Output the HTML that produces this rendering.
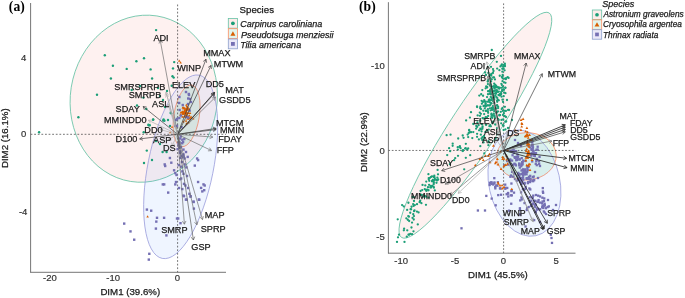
<!DOCTYPE html>
<html><head><meta charset="utf-8"><style>
html,body{margin:0;padding:0;background:#fff;}
svg{display:block;}
text{-webkit-font-smoothing:antialiased;}
.g{will-change:transform;}
</style></head><body>
<svg class="g" width="685" height="298" viewBox="0 0 685 298">
<rect width="685" height="298" fill="#fff"/>
<ellipse cx="143.76" cy="98.70" rx="73.42" ry="83.80" transform="rotate(9.00 143.76 98.70)" fill="#F8766D" fill-opacity="0.1" stroke="#66c2a5" stroke-width="0.8"/>
<ellipse cx="186.58" cy="115.83" rx="12.68" ry="31.22" transform="rotate(9.24 186.58 115.83)" fill="#00BA38" fill-opacity="0.1" stroke="#fc8d62" stroke-width="0.8"/>
<ellipse cx="180.68" cy="166.79" rx="93.46" ry="32.76" transform="rotate(-78.62 180.68 166.79)" fill="#619CFF" fill-opacity="0.1" stroke="#9a9cdb" stroke-width="0.75"/>
<line x1="30.60" y1="134.30" x2="226.00" y2="134.30" stroke="#3a3a3a" stroke-width="0.7" stroke-dasharray="1.8,1.8"/>
<line x1="177.60" y1="4.50" x2="177.60" y2="272.30" stroke="#3a3a3a" stroke-width="0.7" stroke-dasharray="1.8,1.8"/>
<line x1="30.60" y1="3.00" x2="30.60" y2="272.60" stroke="#666" stroke-width="0.9"/>
<line x1="30.30" y1="272.30" x2="226.00" y2="272.30" stroke="#666" stroke-width="0.9"/>
<circle cx="156.10" cy="30.10" r="1.2" fill="#1b9e77"/>
<circle cx="104.80" cy="55.20" r="1.2" fill="#1b9e77"/>
<circle cx="112.90" cy="65.80" r="1.2" fill="#1b9e77"/>
<circle cx="126.70" cy="68.90" r="1.2" fill="#1b9e77"/>
<circle cx="136.40" cy="61.30" r="1.2" fill="#1b9e77"/>
<circle cx="144.00" cy="58.30" r="1.2" fill="#1b9e77"/>
<circle cx="150.60" cy="69.40" r="1.2" fill="#1b9e77"/>
<circle cx="110.90" cy="78.50" r="1.2" fill="#1b9e77"/>
<circle cx="152.10" cy="78.50" r="1.2" fill="#1b9e77"/>
<circle cx="174.20" cy="62.10" r="1.2" fill="#1b9e77"/>
<circle cx="173.00" cy="68.40" r="1.2" fill="#1b9e77"/>
<circle cx="172.50" cy="76.30" r="1.2" fill="#1b9e77"/>
<circle cx="173.70" cy="77.60" r="1.2" fill="#1b9e77"/>
<circle cx="171.70" cy="85.70" r="1.2" fill="#1b9e77"/>
<circle cx="97.00" cy="94.80" r="1.2" fill="#1b9e77"/>
<circle cx="78.40" cy="117.20" r="1.2" fill="#1b9e77"/>
<circle cx="39.10" cy="132.30" r="1.2" fill="#1b9e77"/>
<circle cx="137.00" cy="105.50" r="1.2" fill="#1b9e77"/>
<circle cx="146.30" cy="109.00" r="1.2" fill="#1b9e77"/>
<circle cx="153.20" cy="119.40" r="1.2" fill="#1b9e77"/>
<circle cx="163.60" cy="119.40" r="1.2" fill="#1b9e77"/>
<circle cx="164.40" cy="120.70" r="1.2" fill="#1b9e77"/>
<circle cx="171.10" cy="113.20" r="1.2" fill="#1b9e77"/>
<circle cx="148.80" cy="125.30" r="1.2" fill="#1b9e77"/>
<circle cx="149.80" cy="125.30" r="1.2" fill="#1b9e77"/>
<circle cx="143.40" cy="97.60" r="1.2" fill="#1b9e77"/>
<circle cx="131.70" cy="90.00" r="1.2" fill="#1b9e77"/>
<circle cx="153.10" cy="119.70" r="1.2" fill="#1b9e77"/>
<circle cx="163.20" cy="120.40" r="1.2" fill="#1b9e77"/>
<circle cx="148.40" cy="124.70" r="1.2" fill="#1b9e77"/>
<circle cx="143.70" cy="132.20" r="1.2" fill="#1b9e77"/>
<circle cx="146.80" cy="150.60" r="1.2" fill="#1b9e77"/>
<circle cx="162.60" cy="152.00" r="1.2" fill="#1b9e77"/>
<circle cx="166.60" cy="152.00" r="1.2" fill="#1b9e77"/>
<circle cx="160.00" cy="96.00" r="1.2" fill="#1b9e77"/>
<circle cx="163.00" cy="100.00" r="1.2" fill="#1b9e77"/>
<circle cx="158.00" cy="88.00" r="1.2" fill="#1b9e77"/>
<circle cx="167.00" cy="91.00" r="1.2" fill="#1b9e77"/>
<circle cx="140.00" cy="86.00" r="1.2" fill="#1b9e77"/>
<circle cx="165.00" cy="107.00" r="1.2" fill="#1b9e77"/>
<circle cx="168.00" cy="120.00" r="1.2" fill="#1b9e77"/>
<circle cx="170.00" cy="126.00" r="1.2" fill="#1b9e77"/>
<circle cx="156.00" cy="141.00" r="1.2" fill="#1b9e77"/>
<circle cx="160.00" cy="144.00" r="1.2" fill="#1b9e77"/>
<circle cx="152.00" cy="160.00" r="1.2" fill="#1b9e77"/>
<circle cx="144.00" cy="163.00" r="1.2" fill="#1b9e77"/>
<circle cx="170.70" cy="112.80" r="1.2" fill="#1b9e77"/>
<rect x="179.16" y="150.17" width="2.4" height="2.4" fill="#7570b3"/>
<rect x="179.11" y="156.68" width="2.4" height="2.4" fill="#7570b3"/>
<rect x="182.17" y="153.18" width="2.4" height="2.4" fill="#7570b3"/>
<rect x="178.12" y="140.82" width="2.4" height="2.4" fill="#7570b3"/>
<rect x="181.01" y="142.05" width="2.4" height="2.4" fill="#7570b3"/>
<rect x="182.51" y="155.45" width="2.4" height="2.4" fill="#7570b3"/>
<rect x="179.58" y="135.28" width="2.4" height="2.4" fill="#7570b3"/>
<rect x="180.41" y="154.61" width="2.4" height="2.4" fill="#7570b3"/>
<rect x="182.13" y="153.69" width="2.4" height="2.4" fill="#7570b3"/>
<rect x="177.93" y="146.66" width="2.4" height="2.4" fill="#7570b3"/>
<rect x="177.39" y="142.82" width="2.4" height="2.4" fill="#7570b3"/>
<rect x="177.88" y="142.14" width="2.4" height="2.4" fill="#7570b3"/>
<rect x="181.89" y="140.79" width="2.4" height="2.4" fill="#7570b3"/>
<rect x="179.25" y="145.85" width="2.4" height="2.4" fill="#7570b3"/>
<rect x="184.80" y="90.80" width="2.4" height="2.4" fill="#7570b3"/>
<rect x="187.80" y="93.80" width="2.4" height="2.4" fill="#7570b3"/>
<rect x="188.80" y="97.80" width="2.4" height="2.4" fill="#7570b3"/>
<rect x="186.80" y="102.80" width="2.4" height="2.4" fill="#7570b3"/>
<rect x="174.80" y="118.80" width="2.4" height="2.4" fill="#7570b3"/>
<rect x="175.80" y="124.80" width="2.4" height="2.4" fill="#7570b3"/>
<rect x="178.80" y="137.30" width="2.4" height="2.4" fill="#7570b3"/>
<rect x="181.10" y="138.50" width="2.4" height="2.4" fill="#7570b3"/>
<rect x="177.60" y="144.40" width="2.4" height="2.4" fill="#7570b3"/>
<rect x="176.40" y="147.90" width="2.4" height="2.4" fill="#7570b3"/>
<rect x="182.30" y="148.40" width="2.4" height="2.4" fill="#7570b3"/>
<rect x="168.70" y="156.80" width="2.4" height="2.4" fill="#7570b3"/>
<rect x="181.80" y="156.10" width="2.4" height="2.4" fill="#7570b3"/>
<rect x="183.50" y="157.30" width="2.4" height="2.4" fill="#7570b3"/>
<rect x="186.50" y="155.70" width="2.4" height="2.4" fill="#7570b3"/>
<rect x="195.90" y="157.30" width="2.4" height="2.4" fill="#7570b3"/>
<rect x="196.90" y="158.90" width="2.4" height="2.4" fill="#7570b3"/>
<rect x="163.50" y="163.20" width="2.4" height="2.4" fill="#7570b3"/>
<rect x="164.00" y="164.80" width="2.4" height="2.4" fill="#7570b3"/>
<rect x="170.10" y="161.50" width="2.4" height="2.4" fill="#7570b3"/>
<rect x="177.60" y="163.90" width="2.4" height="2.4" fill="#7570b3"/>
<rect x="180.00" y="165.50" width="2.4" height="2.4" fill="#7570b3"/>
<rect x="183.50" y="163.20" width="2.4" height="2.4" fill="#7570b3"/>
<rect x="185.10" y="166.20" width="2.4" height="2.4" fill="#7570b3"/>
<rect x="193.60" y="164.40" width="2.4" height="2.4" fill="#7570b3"/>
<rect x="172.90" y="169.10" width="2.4" height="2.4" fill="#7570b3"/>
<rect x="174.10" y="171.90" width="2.4" height="2.4" fill="#7570b3"/>
<rect x="175.30" y="173.80" width="2.4" height="2.4" fill="#7570b3"/>
<rect x="181.10" y="170.20" width="2.4" height="2.4" fill="#7570b3"/>
<rect x="182.30" y="172.60" width="2.4" height="2.4" fill="#7570b3"/>
<rect x="178.80" y="178.00" width="2.4" height="2.4" fill="#7570b3"/>
<rect x="180.00" y="177.30" width="2.4" height="2.4" fill="#7570b3"/>
<rect x="174.80" y="180.80" width="2.4" height="2.4" fill="#7570b3"/>
<rect x="174.10" y="183.20" width="2.4" height="2.4" fill="#7570b3"/>
<rect x="161.60" y="183.20" width="2.4" height="2.4" fill="#7570b3"/>
<rect x="163.00" y="183.20" width="2.4" height="2.4" fill="#7570b3"/>
<rect x="182.80" y="182.70" width="2.4" height="2.4" fill="#7570b3"/>
<rect x="184.20" y="184.30" width="2.4" height="2.4" fill="#7570b3"/>
<rect x="181.10" y="187.90" width="2.4" height="2.4" fill="#7570b3"/>
<rect x="196.90" y="180.80" width="2.4" height="2.4" fill="#7570b3"/>
<rect x="202.30" y="183.20" width="2.4" height="2.4" fill="#7570b3"/>
<rect x="203.50" y="184.30" width="2.4" height="2.4" fill="#7570b3"/>
<rect x="199.90" y="186.70" width="2.4" height="2.4" fill="#7570b3"/>
<rect x="201.10" y="190.20" width="2.4" height="2.4" fill="#7570b3"/>
<rect x="203.00" y="189.00" width="2.4" height="2.4" fill="#7570b3"/>
<rect x="167.00" y="191.40" width="2.4" height="2.4" fill="#7570b3"/>
<rect x="182.30" y="194.40" width="2.4" height="2.4" fill="#7570b3"/>
<rect x="188.20" y="192.60" width="2.4" height="2.4" fill="#7570b3"/>
<rect x="189.40" y="195.40" width="2.4" height="2.4" fill="#7570b3"/>
<rect x="184.70" y="198.40" width="2.4" height="2.4" fill="#7570b3"/>
<rect x="197.60" y="198.40" width="2.4" height="2.4" fill="#7570b3"/>
<rect x="192.40" y="200.80" width="2.4" height="2.4" fill="#7570b3"/>
<rect x="145.70" y="208.40" width="2.4" height="2.4" fill="#7570b3"/>
<rect x="150.00" y="209.50" width="2.4" height="2.4" fill="#7570b3"/>
<rect x="155.80" y="216.60" width="2.4" height="2.4" fill="#7570b3"/>
<rect x="155.10" y="220.40" width="2.4" height="2.4" fill="#7570b3"/>
<rect x="162.90" y="216.60" width="2.4" height="2.4" fill="#7570b3"/>
<rect x="154.70" y="227.40" width="2.4" height="2.4" fill="#7570b3"/>
<rect x="165.20" y="234.20" width="2.4" height="2.4" fill="#7570b3"/>
<rect x="175.80" y="217.30" width="2.4" height="2.4" fill="#7570b3"/>
<rect x="179.30" y="222.00" width="2.4" height="2.4" fill="#7570b3"/>
<rect x="123.00" y="222.40" width="2.4" height="2.4" fill="#7570b3"/>
<rect x="129.30" y="230.20" width="2.4" height="2.4" fill="#7570b3"/>
<rect x="133.00" y="238.50" width="2.4" height="2.4" fill="#7570b3"/>
<rect x="148.10" y="252.60" width="2.4" height="2.4" fill="#7570b3"/>
<rect x="147.60" y="258.40" width="2.4" height="2.4" fill="#7570b3"/>
<rect x="182.80" y="195.00" width="2.4" height="2.4" fill="#7570b3"/>
<rect x="185.20" y="198.50" width="2.4" height="2.4" fill="#7570b3"/>
<rect x="189.40" y="195.00" width="2.4" height="2.4" fill="#7570b3"/>
<rect x="192.30" y="200.40" width="2.4" height="2.4" fill="#7570b3"/>
<rect x="198.10" y="198.50" width="2.4" height="2.4" fill="#7570b3"/>
<rect x="192.70" y="207.40" width="2.4" height="2.4" fill="#7570b3"/>
<rect x="177.00" y="217.30" width="2.4" height="2.4" fill="#7570b3"/>
<rect x="177.80" y="141.80" width="2.4" height="2.4" fill="#7570b3"/>
<rect x="179.80" y="145.80" width="2.4" height="2.4" fill="#7570b3"/>
<rect x="178.80" y="151.80" width="2.4" height="2.4" fill="#7570b3"/>
<rect x="184.80" y="150.80" width="2.4" height="2.4" fill="#7570b3"/>
<rect x="180.80" y="160.80" width="2.4" height="2.4" fill="#7570b3"/>
<rect x="185.80" y="174.80" width="2.4" height="2.4" fill="#7570b3"/>
<rect x="177.80" y="186.80" width="2.4" height="2.4" fill="#7570b3"/>
<rect x="186.80" y="186.80" width="2.4" height="2.4" fill="#7570b3"/>
<polygon points="183.87,106.45 182.62,108.61 185.12,108.61" fill="#d95f02"/>
<polygon points="185.48,115.05 184.23,117.21 186.73,117.21" fill="#d95f02"/>
<polygon points="189.49,114.23 188.24,116.39 190.74,116.39" fill="#d95f02"/>
<polygon points="184.60,109.14 183.35,111.31 185.85,111.31" fill="#d95f02"/>
<polygon points="188.37,121.32 187.12,123.49 189.62,123.49" fill="#d95f02"/>
<polygon points="186.99,107.40 185.74,109.56 188.24,109.56" fill="#d95f02"/>
<polygon points="183.42,120.34 182.17,122.50 184.67,122.50" fill="#d95f02"/>
<polygon points="186.79,104.98 185.54,107.15 188.04,107.15" fill="#d95f02"/>
<polygon points="185.96,107.56 184.71,109.73 187.21,109.73" fill="#d95f02"/>
<polygon points="184.38,110.52 183.13,112.69 185.63,112.69" fill="#d95f02"/>
<polygon points="184.13,115.46 182.88,117.62 185.38,117.62" fill="#d95f02"/>
<polygon points="186.02,110.31 184.77,112.48 187.27,112.48" fill="#d95f02"/>
<polygon points="187.39,117.32 186.14,119.48 188.64,119.48" fill="#d95f02"/>
<polygon points="181.44,111.14 180.19,113.31 182.69,113.31" fill="#d95f02"/>
<polygon points="183.36,111.86 182.11,114.02 184.61,114.02" fill="#d95f02"/>
<polygon points="182.46,112.64 181.21,114.80 183.71,114.80" fill="#d95f02"/>
<polygon points="186.09,111.69 184.84,113.85 187.34,113.85" fill="#d95f02"/>
<polygon points="183.16,110.76 181.91,112.93 184.41,112.93" fill="#d95f02"/>
<polygon points="183.04,106.16 181.79,108.33 184.29,108.33" fill="#d95f02"/>
<polygon points="186.85,107.97 185.60,110.13 188.10,110.13" fill="#d95f02"/>
<polygon points="189.59,117.14 188.34,119.31 190.84,119.31" fill="#d95f02"/>
<polygon points="180.41,113.50 179.16,115.66 181.66,115.66" fill="#d95f02"/>
<polygon points="183.01,112.79 181.76,114.95 184.26,114.95" fill="#d95f02"/>
<polygon points="186.33,103.68 185.08,105.85 187.58,105.85" fill="#d95f02"/>
<polygon points="185.52,111.82 184.27,113.99 186.77,113.99" fill="#d95f02"/>
<polygon points="188.99,107.98 187.74,110.14 190.24,110.14" fill="#d95f02"/>
<polygon points="188.34,108.26 187.09,110.43 189.59,110.43" fill="#d95f02"/>
<polygon points="185.24,108.98 183.99,111.15 186.49,111.15" fill="#d95f02"/>
<polygon points="190.40,116.57 189.15,118.73 191.65,118.73" fill="#d95f02"/>
<polygon points="193.25,117.39 192.00,119.56 194.50,119.56" fill="#d95f02"/>
<polygon points="188.65,117.58 187.40,119.74 189.90,119.74" fill="#d95f02"/>
<polygon points="184.44,112.53 183.19,114.70 185.69,114.70" fill="#d95f02"/>
<polygon points="190.12,111.91 188.87,114.08 191.37,114.08" fill="#d95f02"/>
<polygon points="186.75,113.15 185.50,115.31 188.00,115.31" fill="#d95f02"/>
<polygon points="187.97,111.71 186.72,113.87 189.22,113.87" fill="#d95f02"/>
<polygon points="185.76,114.24 184.51,116.41 187.01,116.41" fill="#d95f02"/>
<polygon points="186.50,109.08 185.25,111.24 187.75,111.24" fill="#d95f02"/>
<polygon points="188.80,107.39 187.55,109.55 190.05,109.55" fill="#d95f02"/>
<polygon points="182.72,106.46 181.47,108.62 183.97,108.62" fill="#d95f02"/>
<polygon points="189.00,111.90 187.75,114.06 190.25,114.06" fill="#d95f02"/>
<polygon points="183.38,107.27 182.13,109.43 184.63,109.43" fill="#d95f02"/>
<polygon points="187.42,108.32 186.17,110.49 188.67,110.49" fill="#d95f02"/>
<polygon points="182.51,115.48 181.26,117.64 183.76,117.64" fill="#d95f02"/>
<polygon points="182.73,111.04 181.48,113.21 183.98,113.21" fill="#d95f02"/>
<polygon points="186.18,111.03 184.93,113.19 187.43,113.19" fill="#d95f02"/>
<polygon points="186.04,119.53 184.79,121.69 187.29,121.69" fill="#d95f02"/>
<polygon points="184.70,106.90 183.45,109.06 185.95,109.06" fill="#d95f02"/>
<polygon points="180.87,111.30 179.62,113.46 182.12,113.46" fill="#d95f02"/>
<polygon points="185.18,114.25 183.93,116.42 186.43,116.42" fill="#d95f02"/>
<polygon points="184.85,110.65 183.60,112.81 186.10,112.81" fill="#d95f02"/>
<polygon points="184.11,110.33 182.86,112.49 185.36,112.49" fill="#d95f02"/>
<polygon points="186.66,111.42 185.41,113.58 187.91,113.58" fill="#d95f02"/>
<polygon points="186.49,122.29 185.24,124.45 187.74,124.45" fill="#d95f02"/>
<polygon points="187.59,105.86 186.34,108.03 188.84,108.03" fill="#d95f02"/>
<polygon points="191.23,115.65 189.98,117.82 192.48,117.82" fill="#d95f02"/>
<polygon points="188.18,115.99 186.93,118.15 189.43,118.15" fill="#d95f02"/>
<polygon points="182.41,110.24 181.16,112.41 183.66,112.41" fill="#d95f02"/>
<polygon points="188.12,114.71 186.87,116.88 189.37,116.88" fill="#d95f02"/>
<polygon points="187.55,115.15 186.30,117.31 188.80,117.31" fill="#d95f02"/>
<polygon points="186.96,112.31 185.71,114.48 188.21,114.48" fill="#d95f02"/>
<polygon points="186.79,107.44 185.54,109.60 188.04,109.60" fill="#d95f02"/>
<polygon points="185.15,111.80 183.90,113.96 186.40,113.96" fill="#d95f02"/>
<polygon points="185.57,114.47 184.32,116.64 186.82,116.64" fill="#d95f02"/>
<polygon points="188.57,116.05 187.32,118.22 189.82,118.22" fill="#d95f02"/>
<polygon points="186.46,114.81 185.21,116.97 187.71,116.97" fill="#d95f02"/>
<polygon points="185.05,108.21 183.80,110.37 186.30,110.37" fill="#d95f02"/>
<polygon points="186.63,111.50 185.38,113.67 187.88,113.67" fill="#d95f02"/>
<polygon points="179.20,59.56 177.95,61.72 180.45,61.72" fill="#d95f02"/>
<polygon points="180.60,61.26 179.35,63.42 181.85,63.42" fill="#d95f02"/>
<polygon points="147.60,215.26 146.35,217.42 148.85,217.42" fill="#d95f02"/>
<polygon points="170.20,131.16 168.95,133.32 171.45,133.32" fill="#d95f02"/>
<polygon points="172.00,125.66 170.75,127.82 173.25,127.82" fill="#d95f02"/>
<rect x="179.69" y="114.41" width="2.4" height="2.4" fill="#7570b3"/>
<rect x="175.85" y="117.67" width="2.4" height="2.4" fill="#7570b3"/>
<rect x="188.45" y="109.44" width="2.4" height="2.4" fill="#7570b3"/>
<rect x="185.24" y="115.73" width="2.4" height="2.4" fill="#7570b3"/>
<rect x="181.53" y="103.82" width="2.4" height="2.4" fill="#7570b3"/>
<rect x="174.15" y="124.80" width="2.4" height="2.4" fill="#7570b3"/>
<rect x="183.09" y="137.85" width="2.4" height="2.4" fill="#7570b3"/>
<rect x="187.02" y="116.39" width="2.4" height="2.4" fill="#7570b3"/>
<rect x="180.34" y="126.00" width="2.4" height="2.4" fill="#7570b3"/>
<rect x="178.20" y="95.80" width="2.4" height="2.4" fill="#7570b3"/>
<rect x="178.00" y="101.80" width="2.4" height="2.4" fill="#7570b3"/>
<rect x="178.40" y="108.80" width="2.4" height="2.4" fill="#7570b3"/>
<rect x="178.10" y="116.80" width="2.4" height="2.4" fill="#7570b3"/>
<rect x="187.60" y="92.80" width="2.4" height="2.4" fill="#7570b3"/>
<rect x="187.00" y="97.30" width="2.4" height="2.4" fill="#7570b3"/>
<rect x="189.80" y="100.80" width="2.4" height="2.4" fill="#7570b3"/>
<line x1="177.60" y1="134.30" x2="160.20" y2="40.20" stroke="#6e6e6e" stroke-width="0.7"/>
<polyline points="159.00,43.59 160.20,40.20 162.54,42.94" fill="none" stroke="#6e6e6e" stroke-width="0.7"/>
<line x1="177.60" y1="134.30" x2="206.00" y2="59.20" stroke="#3c3c3c" stroke-width="0.7"/>
<polyline points="203.21,61.48 206.00,59.20 206.58,62.75" fill="none" stroke="#3c3c3c" stroke-width="0.7"/>
<line x1="177.60" y1="134.30" x2="211.10" y2="65.40" stroke="#3c3c3c" stroke-width="0.7"/>
<polyline points="208.12,67.42 211.10,65.40 211.36,68.99" fill="none" stroke="#3c3c3c" stroke-width="0.7"/>
<line x1="177.60" y1="134.30" x2="214.60" y2="92.40" stroke="#1e1e1e" stroke-width="0.85"/>
<polyline points="211.19,93.55 214.60,92.40 213.89,95.93" fill="none" stroke="#1e1e1e" stroke-width="0.85"/>
<line x1="177.60" y1="134.30" x2="214.30" y2="93.50" stroke="#3c3c3c" stroke-width="0.7"/>
<polyline points="210.88,94.61 214.30,93.50 213.55,97.02" fill="none" stroke="#3c3c3c" stroke-width="0.7"/>
<line x1="177.60" y1="134.30" x2="215.50" y2="97.10" stroke="#6e6e6e" stroke-width="0.7"/>
<polyline points="212.01,98.00 215.50,97.10 214.54,100.57" fill="none" stroke="#6e6e6e" stroke-width="0.7"/>
<line x1="177.60" y1="134.30" x2="166.00" y2="92.00" stroke="#a8a8a8" stroke-width="0.65"/>
<polyline points="165.09,95.48 166.00,92.00 168.56,94.53" fill="none" stroke="#a8a8a8" stroke-width="0.65"/>
<line x1="177.60" y1="134.30" x2="166.50" y2="94.10" stroke="#a8a8a8" stroke-width="0.65"/>
<polyline points="165.59,97.58 166.50,94.10 169.06,96.63" fill="none" stroke="#a8a8a8" stroke-width="0.65"/>
<line x1="177.60" y1="134.30" x2="168.00" y2="104.00" stroke="#a8a8a8" stroke-width="0.65"/>
<polyline points="167.23,107.52 168.00,104.00 170.66,106.43" fill="none" stroke="#a8a8a8" stroke-width="0.65"/>
<line x1="177.60" y1="134.30" x2="143.10" y2="106.50" stroke="#3c3c3c" stroke-width="0.7"/>
<polyline points="144.40,109.86 143.10,106.50 146.66,107.05" fill="none" stroke="#3c3c3c" stroke-width="0.7"/>
<line x1="177.60" y1="134.30" x2="148.40" y2="120.30" stroke="#a8a8a8" stroke-width="0.65"/>
<polyline points="150.43,123.27 148.40,120.30 151.99,120.02" fill="none" stroke="#a8a8a8" stroke-width="0.65"/>
<line x1="177.60" y1="134.30" x2="160.00" y2="129.50" stroke="#a8a8a8" stroke-width="0.65"/>
<polyline points="162.53,132.06 160.00,129.50 163.48,128.58" fill="none" stroke="#a8a8a8" stroke-width="0.65"/>
<line x1="177.60" y1="134.30" x2="139.70" y2="138.90" stroke="#3c3c3c" stroke-width="0.7"/>
<polyline points="143.01,140.31 139.70,138.90 142.58,136.74" fill="none" stroke="#3c3c3c" stroke-width="0.7"/>
<line x1="177.60" y1="134.30" x2="168.00" y2="140.00" stroke="#a8a8a8" stroke-width="0.65"/>
<polyline points="171.60,139.96 168.00,140.00 169.76,136.86" fill="none" stroke="#a8a8a8" stroke-width="0.65"/>
<line x1="177.60" y1="134.30" x2="172.00" y2="146.00" stroke="#a8a8a8" stroke-width="0.65"/>
<polyline points="174.97,143.96 172.00,146.00 171.72,142.41" fill="none" stroke="#a8a8a8" stroke-width="0.65"/>
<line x1="177.60" y1="134.30" x2="216.20" y2="128.40" stroke="#3c3c3c" stroke-width="0.7"/>
<polyline points="212.85,127.09 216.20,128.40 213.39,130.65" fill="none" stroke="#3c3c3c" stroke-width="0.7"/>
<line x1="177.60" y1="134.30" x2="216.20" y2="129.50" stroke="#3c3c3c" stroke-width="0.7"/>
<polyline points="212.88,128.10 216.20,129.50 213.33,131.67" fill="none" stroke="#3c3c3c" stroke-width="0.7"/>
<line x1="177.60" y1="134.30" x2="212.80" y2="137.10" stroke="#6e6e6e" stroke-width="0.7"/>
<polyline points="209.83,135.06 212.80,137.10 209.55,138.65" fill="none" stroke="#6e6e6e" stroke-width="0.7"/>
<line x1="177.60" y1="134.30" x2="211.50" y2="150.60" stroke="#6e6e6e" stroke-width="0.7"/>
<polyline points="209.47,147.63 211.50,150.60 207.91,150.87" fill="none" stroke="#6e6e6e" stroke-width="0.7"/>
<line x1="177.60" y1="134.30" x2="202.50" y2="219.60" stroke="#6e6e6e" stroke-width="0.7"/>
<polyline points="203.35,216.10 202.50,219.60 199.90,217.11" fill="none" stroke="#6e6e6e" stroke-width="0.7"/>
<line x1="177.60" y1="134.30" x2="196.90" y2="224.90" stroke="#6e6e6e" stroke-width="0.7"/>
<polyline points="198.01,221.48 196.90,224.90 194.49,222.23" fill="none" stroke="#6e6e6e" stroke-width="0.7"/>
<line x1="177.60" y1="134.30" x2="184.40" y2="224.20" stroke="#6e6e6e" stroke-width="0.7"/>
<polyline points="185.96,220.96 184.40,224.20 182.37,221.23" fill="none" stroke="#6e6e6e" stroke-width="0.7"/>
<line x1="177.60" y1="134.30" x2="193.40" y2="240.00" stroke="#5a5a5a" stroke-width="0.7"/>
<polyline points="194.72,236.65 193.40,240.00 191.16,237.18" fill="none" stroke="#5a5a5a" stroke-width="0.7"/>
<text x="153.42" y="40.55" font-family='"Liberation Sans",sans-serif' font-size="9.15" font-style="normal" font-weight="normal" fill="#1a1a1a" stroke="#1a1a1a" stroke-width="0.25">ADI</text>
<text x="203.18" y="55.95" font-family='"Liberation Sans",sans-serif' font-size="9.15" font-style="normal" font-weight="normal" fill="#1a1a1a" stroke="#1a1a1a" stroke-width="0.25">MMAX</text>
<text x="213.81" y="67.15" font-family='"Liberation Sans",sans-serif' font-size="9.15" font-style="normal" font-weight="normal" fill="#1a1a1a" stroke="#1a1a1a" stroke-width="0.25">MTWM</text>
<text x="177.15" y="71.15" font-family='"Liberation Sans",sans-serif' font-size="9.15" font-style="normal" font-weight="normal" fill="#1a1a1a" stroke="#1a1a1a" stroke-width="0.25">WINP</text>
<text x="171.95" y="88.15" font-family='"Liberation Sans",sans-serif' font-size="9.15" font-style="normal" font-weight="normal" fill="#1a1a1a" stroke="#1a1a1a" stroke-width="0.25">ELEV</text>
<text x="205.65" y="86.65" font-family='"Liberation Sans",sans-serif' font-size="9.15" font-style="normal" font-weight="normal" fill="#1a1a1a" stroke="#1a1a1a" stroke-width="0.25">DD5</text>
<text x="225.28" y="92.95" font-family='"Liberation Sans",sans-serif' font-size="9.15" font-style="normal" font-weight="normal" fill="#1a1a1a" stroke="#1a1a1a" stroke-width="0.25">MAT</text>
<text x="219.09" y="103.25" font-family='"Liberation Sans",sans-serif' font-size="9.15" font-style="normal" font-weight="normal" fill="#1a1a1a" stroke="#1a1a1a" stroke-width="0.25">GSDD5</text>
<text x="114.23" y="90.15" font-family='"Liberation Sans",sans-serif' font-size="9.15" font-style="normal" font-weight="normal" fill="#1a1a1a" stroke="#1a1a1a" stroke-width="0.25">SMRSPRPB</text>
<text x="128.78" y="97.65" font-family='"Liberation Sans",sans-serif' font-size="9.15" font-style="normal" font-weight="normal" fill="#1a1a1a" stroke="#1a1a1a" stroke-width="0.25">SMRPB</text>
<text x="152.10" y="106.75" font-family='"Liberation Sans",sans-serif' font-size="9.15" font-style="normal" font-weight="normal" fill="#1a1a1a" stroke="#1a1a1a" stroke-width="0.25">ASL</text>
<text x="115.58" y="111.85" font-family='"Liberation Sans",sans-serif' font-size="9.15" font-style="normal" font-weight="normal" fill="#1a1a1a" stroke="#1a1a1a" stroke-width="0.25">SDAY</text>
<text x="104.00" y="122.95" font-family='"Liberation Sans",sans-serif' font-size="9.15" font-style="normal" font-weight="normal" fill="#1a1a1a" stroke="#1a1a1a" stroke-width="0.25">MMINDD0</text>
<text x="144.30" y="132.55" font-family='"Liberation Sans",sans-serif' font-size="9.15" font-style="normal" font-weight="normal" fill="#1a1a1a" stroke="#1a1a1a" stroke-width="0.25">DD0</text>
<text x="115.61" y="142.35" font-family='"Liberation Sans",sans-serif' font-size="9.15" font-style="normal" font-weight="normal" fill="#1a1a1a" stroke="#1a1a1a" stroke-width="0.25">D100</text>
<text x="153.05" y="143.25" font-family='"Liberation Sans",sans-serif' font-size="9.15" font-style="normal" font-weight="normal" fill="#1a1a1a" stroke="#1a1a1a" stroke-width="0.25">ASP</text>
<text x="162.95" y="150.85" font-family='"Liberation Sans",sans-serif' font-size="9.15" font-style="normal" font-weight="normal" fill="#1a1a1a" stroke="#1a1a1a" stroke-width="0.25">DS</text>
<text x="215.88" y="125.55" font-family='"Liberation Sans",sans-serif' font-size="9.15" font-style="normal" font-weight="normal" fill="#1a1a1a" stroke="#1a1a1a" stroke-width="0.25">MTCM</text>
<text x="219.95" y="133.35" font-family='"Liberation Sans",sans-serif' font-size="9.15" font-style="normal" font-weight="normal" fill="#1a1a1a" stroke="#1a1a1a" stroke-width="0.25">MMIN</text>
<text x="218.29" y="141.65" font-family='"Liberation Sans",sans-serif' font-size="9.15" font-style="normal" font-weight="normal" fill="#1a1a1a" stroke="#1a1a1a" stroke-width="0.25">FDAY</text>
<text x="216.66" y="153.45" font-family='"Liberation Sans",sans-serif' font-size="9.15" font-style="normal" font-weight="normal" fill="#1a1a1a" stroke="#1a1a1a" stroke-width="0.25">FFP</text>
<text x="204.74" y="217.85" font-family='"Liberation Sans",sans-serif' font-size="9.15" font-style="normal" font-weight="normal" fill="#1a1a1a" stroke="#1a1a1a" stroke-width="0.25">MAP</text>
<text x="200.74" y="231.55" font-family='"Liberation Sans",sans-serif' font-size="9.15" font-style="normal" font-weight="normal" fill="#1a1a1a" stroke="#1a1a1a" stroke-width="0.25">SPRP</text>
<text x="161.13" y="233.45" font-family='"Liberation Sans",sans-serif' font-size="9.15" font-style="normal" font-weight="normal" fill="#1a1a1a" stroke="#1a1a1a" stroke-width="0.25">SMRP</text>
<text x="191.29" y="250.45" font-family='"Liberation Sans",sans-serif' font-size="9.15" font-style="normal" font-weight="normal" fill="#1a1a1a" stroke="#1a1a1a" stroke-width="0.25">GSP</text>
<text x="21.02" y="60.86" font-family='"Liberation Sans",sans-serif' font-size="9.5" font-style="normal" font-weight="normal" fill="#333" stroke="#333" stroke-width="0.2">4</text>
<text x="21.02" y="136.76" font-family='"Liberation Sans",sans-serif' font-size="9.5" font-style="normal" font-weight="normal" fill="#333" stroke="#333" stroke-width="0.2">0</text>
<text x="18.95" y="215.46" font-family='"Liberation Sans",sans-serif' font-size="9.5" font-style="normal" font-weight="normal" fill="#333" stroke="#333" stroke-width="0.2">-4</text>
<text x="43.04" y="280.76" font-family='"Liberation Sans",sans-serif' font-size="9.5" font-style="normal" font-weight="normal" fill="#333" stroke="#333" stroke-width="0.2">-20</text>
<text x="106.34" y="280.76" font-family='"Liberation Sans",sans-serif' font-size="9.5" font-style="normal" font-weight="normal" fill="#333" stroke="#333" stroke-width="0.2">-10</text>
<text x="174.86" y="280.76" font-family='"Liberation Sans",sans-serif' font-size="9.5" font-style="normal" font-weight="normal" fill="#333" stroke="#333" stroke-width="0.2">0</text>
<text x="100.39" y="294.74" font-family='"Liberation Sans",sans-serif' font-size="9.7" font-style="normal" font-weight="normal" fill="#1a1a1a" stroke="#1a1a1a" stroke-width="0.25">DIM1 (39.6%)</text>
<g transform="translate(5,138.2) rotate(-90)">
<text x="-29.91" y="3.34" font-family='"Liberation Sans",sans-serif' font-size="9.7" font-style="normal" font-weight="normal" fill="#1a1a1a" stroke="#1a1a1a" stroke-width="0.25">DIM2 (16.1%)</text>
</g>
<text x="8.87" y="10.80" font-family='"Liberation Serif",serif' font-size="13.6" font-style="normal" font-weight="bold" fill="#000">(a)</text>
<text x="239.54" y="13.04" font-family='"Liberation Sans",sans-serif' font-size="9.7" font-style="normal" font-weight="normal" fill="#1a1a1a" stroke="#1a1a1a" stroke-width="0.25">Species</text>
<rect x="228.3" y="18.40" width="9.2" height="9.8" fill="#fdecea" stroke="#66c2a5" stroke-width="0.8"/>
<circle cx="232.90" cy="23.30" r="1.9" fill="#1b9e77"/>
<text x="240.20" y="26.90" font-family='"Liberation Sans",sans-serif' font-size="9.0" font-style="italic" font-weight="normal" fill="#1a1a1a" stroke="#1a1a1a" stroke-width="0.25">Carpinus caroliniana</text>
<rect x="228.3" y="28.70" width="9.2" height="9.8" fill="#e2f4ec" stroke="#fc8d62" stroke-width="0.8"/>
<polygon points="232.90,31.32 230.40,35.65 235.40,35.65" fill="#d95f02"/>
<text x="240.90" y="37.60" font-family='"Liberation Sans",sans-serif' font-size="9.0" font-style="italic" font-weight="normal" fill="#1a1a1a" stroke="#1a1a1a" stroke-width="0.25">Pseudotsuga menziesii</text>
<rect x="228.3" y="39.00" width="9.2" height="9.8" fill="#eae9f8" stroke="#8da0cb" stroke-width="0.8"/>
<rect x="231.00" y="42.00" width="3.8" height="3.8" fill="#7570b3"/>
<text x="240.20" y="47.80" font-family='"Liberation Sans",sans-serif' font-size="9.0" font-style="italic" font-weight="normal" fill="#1a1a1a" stroke="#1a1a1a" stroke-width="0.25">Tilia americana</text>
<ellipse cx="475.38" cy="125.23" rx="23.42" ry="134.36" transform="rotate(33.34 475.38 125.23)" fill="#F8766D" fill-opacity="0.1" stroke="#66c2a5" stroke-width="0.8"/>
<ellipse cx="526.45" cy="156.35" rx="23.66" ry="29.78" transform="rotate(87.57 526.45 156.35)" fill="#00BA38" fill-opacity="0.1" stroke="#fc8d62" stroke-width="0.8"/>
<ellipse cx="524.43" cy="183.04" rx="35.48" ry="53.92" transform="rotate(-12.34 524.43 183.04)" fill="#619CFF" fill-opacity="0.1" stroke="#9a9cdb" stroke-width="0.75"/>
<line x1="388.40" y1="150.45" x2="575.50" y2="150.45" stroke="#3a3a3a" stroke-width="0.7" stroke-dasharray="1.7,1.7"/>
<line x1="503.60" y1="3.40" x2="503.60" y2="253.20" stroke="#3a3a3a" stroke-width="0.7" stroke-dasharray="1.7,1.7"/>
<line x1="388.40" y1="2.20" x2="388.40" y2="253.50" stroke="#666" stroke-width="0.9"/>
<line x1="388.10" y1="253.20" x2="575.50" y2="253.20" stroke="#666" stroke-width="0.9"/>
<circle cx="495.07" cy="86.87" r="1.15" fill="#1b9e77"/>
<circle cx="491.17" cy="75.19" r="1.15" fill="#1b9e77"/>
<circle cx="494.20" cy="83.70" r="1.15" fill="#1b9e77"/>
<circle cx="488.33" cy="79.83" r="1.15" fill="#1b9e77"/>
<circle cx="491.32" cy="73.89" r="1.15" fill="#1b9e77"/>
<circle cx="490.98" cy="86.45" r="1.15" fill="#1b9e77"/>
<circle cx="489.90" cy="85.39" r="1.15" fill="#1b9e77"/>
<circle cx="491.05" cy="75.28" r="1.15" fill="#1b9e77"/>
<circle cx="495.95" cy="87.46" r="1.15" fill="#1b9e77"/>
<circle cx="485.13" cy="72.49" r="1.15" fill="#1b9e77"/>
<circle cx="487.90" cy="84.11" r="1.15" fill="#1b9e77"/>
<circle cx="487.74" cy="81.62" r="1.15" fill="#1b9e77"/>
<circle cx="494.09" cy="77.42" r="1.15" fill="#1b9e77"/>
<circle cx="497.17" cy="68.62" r="1.15" fill="#1b9e77"/>
<circle cx="496.22" cy="85.90" r="1.15" fill="#1b9e77"/>
<circle cx="494.95" cy="79.47" r="1.15" fill="#1b9e77"/>
<circle cx="489.53" cy="75.81" r="1.15" fill="#1b9e77"/>
<circle cx="489.48" cy="75.09" r="1.15" fill="#1b9e77"/>
<circle cx="487.92" cy="81.04" r="1.15" fill="#1b9e77"/>
<circle cx="486.00" cy="74.94" r="1.15" fill="#1b9e77"/>
<circle cx="490.54" cy="78.15" r="1.15" fill="#1b9e77"/>
<circle cx="491.01" cy="75.42" r="1.15" fill="#1b9e77"/>
<circle cx="493.02" cy="69.10" r="1.15" fill="#1b9e77"/>
<circle cx="492.94" cy="73.01" r="1.15" fill="#1b9e77"/>
<circle cx="495.24" cy="84.82" r="1.15" fill="#1b9e77"/>
<circle cx="490.57" cy="84.36" r="1.15" fill="#1b9e77"/>
<circle cx="491.11" cy="81.35" r="1.15" fill="#1b9e77"/>
<circle cx="493.13" cy="77.41" r="1.15" fill="#1b9e77"/>
<circle cx="494.27" cy="87.40" r="1.15" fill="#1b9e77"/>
<circle cx="490.72" cy="84.81" r="1.15" fill="#1b9e77"/>
<circle cx="488.34" cy="72.90" r="1.15" fill="#1b9e77"/>
<circle cx="491.77" cy="79.35" r="1.15" fill="#1b9e77"/>
<circle cx="500.40" cy="66.43" r="1.15" fill="#1b9e77"/>
<circle cx="502.70" cy="78.40" r="1.15" fill="#1b9e77"/>
<circle cx="501.92" cy="85.05" r="1.15" fill="#1b9e77"/>
<circle cx="504.58" cy="70.35" r="1.15" fill="#1b9e77"/>
<circle cx="502.53" cy="81.17" r="1.15" fill="#1b9e77"/>
<circle cx="502.64" cy="74.98" r="1.15" fill="#1b9e77"/>
<circle cx="502.93" cy="86.96" r="1.15" fill="#1b9e77"/>
<circle cx="508.58" cy="77.91" r="1.15" fill="#1b9e77"/>
<circle cx="502.34" cy="89.80" r="1.15" fill="#1b9e77"/>
<circle cx="502.34" cy="68.77" r="1.15" fill="#1b9e77"/>
<circle cx="504.90" cy="65.09" r="1.15" fill="#1b9e77"/>
<circle cx="502.36" cy="71.66" r="1.15" fill="#1b9e77"/>
<circle cx="501.37" cy="83.79" r="1.15" fill="#1b9e77"/>
<circle cx="507.61" cy="77.19" r="1.15" fill="#1b9e77"/>
<circle cx="501.13" cy="87.85" r="1.15" fill="#1b9e77"/>
<circle cx="504.04" cy="89.86" r="1.15" fill="#1b9e77"/>
<circle cx="505.44" cy="87.87" r="1.15" fill="#1b9e77"/>
<circle cx="503.16" cy="66.54" r="1.15" fill="#1b9e77"/>
<circle cx="504.92" cy="78.55" r="1.15" fill="#1b9e77"/>
<circle cx="504.22" cy="82.34" r="1.15" fill="#1b9e77"/>
<circle cx="505.25" cy="87.77" r="1.15" fill="#1b9e77"/>
<circle cx="504.95" cy="66.13" r="1.15" fill="#1b9e77"/>
<circle cx="505.83" cy="79.20" r="1.15" fill="#1b9e77"/>
<circle cx="504.83" cy="63.54" r="1.15" fill="#1b9e77"/>
<circle cx="505.51" cy="82.85" r="1.15" fill="#1b9e77"/>
<circle cx="506.13" cy="78.09" r="1.15" fill="#1b9e77"/>
<circle cx="501.34" cy="65.51" r="1.15" fill="#1b9e77"/>
<circle cx="503.49" cy="65.18" r="1.15" fill="#1b9e77"/>
<circle cx="502.45" cy="76.67" r="1.15" fill="#1b9e77"/>
<circle cx="499.76" cy="75.77" r="1.15" fill="#1b9e77"/>
<circle cx="501.92" cy="77.05" r="1.15" fill="#1b9e77"/>
<circle cx="503.05" cy="89.36" r="1.15" fill="#1b9e77"/>
<circle cx="481.18" cy="94.25" r="1.15" fill="#1b9e77"/>
<circle cx="493.89" cy="93.34" r="1.15" fill="#1b9e77"/>
<circle cx="488.22" cy="91.06" r="1.15" fill="#1b9e77"/>
<circle cx="499.97" cy="115.13" r="1.15" fill="#1b9e77"/>
<circle cx="491.42" cy="113.71" r="1.15" fill="#1b9e77"/>
<circle cx="492.28" cy="89.13" r="1.15" fill="#1b9e77"/>
<circle cx="495.33" cy="95.68" r="1.15" fill="#1b9e77"/>
<circle cx="483.52" cy="106.05" r="1.15" fill="#1b9e77"/>
<circle cx="491.94" cy="108.67" r="1.15" fill="#1b9e77"/>
<circle cx="491.68" cy="100.02" r="1.15" fill="#1b9e77"/>
<circle cx="484.27" cy="100.26" r="1.15" fill="#1b9e77"/>
<circle cx="480.09" cy="108.08" r="1.15" fill="#1b9e77"/>
<circle cx="489.16" cy="99.63" r="1.15" fill="#1b9e77"/>
<circle cx="491.26" cy="117.04" r="1.15" fill="#1b9e77"/>
<circle cx="493.50" cy="96.07" r="1.15" fill="#1b9e77"/>
<circle cx="485.63" cy="88.36" r="1.15" fill="#1b9e77"/>
<circle cx="498.52" cy="95.01" r="1.15" fill="#1b9e77"/>
<circle cx="499.15" cy="88.64" r="1.15" fill="#1b9e77"/>
<circle cx="494.54" cy="116.31" r="1.15" fill="#1b9e77"/>
<circle cx="484.11" cy="105.72" r="1.15" fill="#1b9e77"/>
<circle cx="490.00" cy="91.81" r="1.15" fill="#1b9e77"/>
<circle cx="498.69" cy="87.94" r="1.15" fill="#1b9e77"/>
<circle cx="493.78" cy="113.73" r="1.15" fill="#1b9e77"/>
<circle cx="491.84" cy="97.83" r="1.15" fill="#1b9e77"/>
<circle cx="495.74" cy="93.13" r="1.15" fill="#1b9e77"/>
<circle cx="497.90" cy="99.94" r="1.15" fill="#1b9e77"/>
<circle cx="497.89" cy="91.95" r="1.15" fill="#1b9e77"/>
<circle cx="494.56" cy="88.43" r="1.15" fill="#1b9e77"/>
<circle cx="497.29" cy="87.23" r="1.15" fill="#1b9e77"/>
<circle cx="493.93" cy="86.27" r="1.15" fill="#1b9e77"/>
<circle cx="492.86" cy="106.09" r="1.15" fill="#1b9e77"/>
<circle cx="496.48" cy="97.20" r="1.15" fill="#1b9e77"/>
<circle cx="489.94" cy="93.78" r="1.15" fill="#1b9e77"/>
<circle cx="488.73" cy="100.23" r="1.15" fill="#1b9e77"/>
<circle cx="502.46" cy="107.99" r="1.15" fill="#1b9e77"/>
<circle cx="491.07" cy="93.46" r="1.15" fill="#1b9e77"/>
<circle cx="496.03" cy="90.53" r="1.15" fill="#1b9e77"/>
<circle cx="496.60" cy="108.39" r="1.15" fill="#1b9e77"/>
<circle cx="488.02" cy="94.25" r="1.15" fill="#1b9e77"/>
<circle cx="488.13" cy="112.83" r="1.15" fill="#1b9e77"/>
<circle cx="487.97" cy="101.81" r="1.15" fill="#1b9e77"/>
<circle cx="492.23" cy="117.94" r="1.15" fill="#1b9e77"/>
<circle cx="482.29" cy="90.11" r="1.15" fill="#1b9e77"/>
<circle cx="490.26" cy="89.55" r="1.15" fill="#1b9e77"/>
<circle cx="496.76" cy="91.63" r="1.15" fill="#1b9e77"/>
<circle cx="477.66" cy="115.46" r="1.15" fill="#1b9e77"/>
<circle cx="495.52" cy="108.59" r="1.15" fill="#1b9e77"/>
<circle cx="481.91" cy="103.71" r="1.15" fill="#1b9e77"/>
<circle cx="494.03" cy="97.22" r="1.15" fill="#1b9e77"/>
<circle cx="496.90" cy="91.40" r="1.15" fill="#1b9e77"/>
<circle cx="498.27" cy="87.31" r="1.15" fill="#1b9e77"/>
<circle cx="496.06" cy="112.60" r="1.15" fill="#1b9e77"/>
<circle cx="497.21" cy="101.80" r="1.15" fill="#1b9e77"/>
<circle cx="486.89" cy="117.31" r="1.15" fill="#1b9e77"/>
<circle cx="494.49" cy="86.58" r="1.15" fill="#1b9e77"/>
<circle cx="499.53" cy="114.86" r="1.15" fill="#1b9e77"/>
<circle cx="491.98" cy="91.07" r="1.15" fill="#1b9e77"/>
<circle cx="498.03" cy="118.99" r="1.15" fill="#1b9e77"/>
<circle cx="490.25" cy="90.37" r="1.15" fill="#1b9e77"/>
<circle cx="495.71" cy="93.69" r="1.15" fill="#1b9e77"/>
<circle cx="493.09" cy="101.09" r="1.15" fill="#1b9e77"/>
<circle cx="484.35" cy="101.52" r="1.15" fill="#1b9e77"/>
<circle cx="505.47" cy="93.16" r="1.15" fill="#1b9e77"/>
<circle cx="477.12" cy="107.10" r="1.15" fill="#1b9e77"/>
<circle cx="471.02" cy="112.15" r="1.15" fill="#1b9e77"/>
<circle cx="487.09" cy="87.50" r="1.15" fill="#1b9e77"/>
<circle cx="489.74" cy="91.00" r="1.15" fill="#1b9e77"/>
<circle cx="494.30" cy="111.20" r="1.15" fill="#1b9e77"/>
<circle cx="487.17" cy="86.90" r="1.15" fill="#1b9e77"/>
<circle cx="491.75" cy="107.91" r="1.15" fill="#1b9e77"/>
<circle cx="492.05" cy="109.92" r="1.15" fill="#1b9e77"/>
<circle cx="494.32" cy="115.46" r="1.15" fill="#1b9e77"/>
<circle cx="482.91" cy="101.99" r="1.15" fill="#1b9e77"/>
<circle cx="487.04" cy="97.05" r="1.15" fill="#1b9e77"/>
<circle cx="502.16" cy="90.32" r="1.15" fill="#1b9e77"/>
<circle cx="493.28" cy="94.68" r="1.15" fill="#1b9e77"/>
<circle cx="501.10" cy="92.12" r="1.15" fill="#1b9e77"/>
<circle cx="485.88" cy="101.61" r="1.15" fill="#1b9e77"/>
<circle cx="499.32" cy="87.69" r="1.15" fill="#1b9e77"/>
<circle cx="490.64" cy="110.29" r="1.15" fill="#1b9e77"/>
<circle cx="485.66" cy="117.18" r="1.15" fill="#1b9e77"/>
<circle cx="494.46" cy="90.84" r="1.15" fill="#1b9e77"/>
<circle cx="498.19" cy="108.03" r="1.15" fill="#1b9e77"/>
<circle cx="492.23" cy="115.05" r="1.15" fill="#1b9e77"/>
<circle cx="500.99" cy="94.39" r="1.15" fill="#1b9e77"/>
<circle cx="480.87" cy="113.80" r="1.15" fill="#1b9e77"/>
<circle cx="484.80" cy="108.34" r="1.15" fill="#1b9e77"/>
<circle cx="500.81" cy="111.87" r="1.15" fill="#1b9e77"/>
<circle cx="499.71" cy="95.25" r="1.15" fill="#1b9e77"/>
<circle cx="477.00" cy="106.42" r="1.15" fill="#1b9e77"/>
<circle cx="486.09" cy="110.77" r="1.15" fill="#1b9e77"/>
<circle cx="491.44" cy="115.00" r="1.15" fill="#1b9e77"/>
<circle cx="485.61" cy="103.21" r="1.15" fill="#1b9e77"/>
<circle cx="491.42" cy="88.82" r="1.15" fill="#1b9e77"/>
<circle cx="486.04" cy="105.87" r="1.15" fill="#1b9e77"/>
<circle cx="494.30" cy="99.17" r="1.15" fill="#1b9e77"/>
<circle cx="479.76" cy="112.62" r="1.15" fill="#1b9e77"/>
<circle cx="490.74" cy="96.90" r="1.15" fill="#1b9e77"/>
<circle cx="498.09" cy="106.56" r="1.15" fill="#1b9e77"/>
<circle cx="491.58" cy="103.39" r="1.15" fill="#1b9e77"/>
<circle cx="495.31" cy="90.39" r="1.15" fill="#1b9e77"/>
<circle cx="487.96" cy="109.03" r="1.15" fill="#1b9e77"/>
<circle cx="490.03" cy="100.29" r="1.15" fill="#1b9e77"/>
<circle cx="490.67" cy="102.83" r="1.15" fill="#1b9e77"/>
<circle cx="496.94" cy="100.54" r="1.15" fill="#1b9e77"/>
<circle cx="492.54" cy="86.72" r="1.15" fill="#1b9e77"/>
<circle cx="496.89" cy="90.25" r="1.15" fill="#1b9e77"/>
<circle cx="481.67" cy="100.80" r="1.15" fill="#1b9e77"/>
<circle cx="498.85" cy="100.32" r="1.15" fill="#1b9e77"/>
<circle cx="493.60" cy="99.62" r="1.15" fill="#1b9e77"/>
<circle cx="496.00" cy="93.43" r="1.15" fill="#1b9e77"/>
<circle cx="497.16" cy="105.26" r="1.15" fill="#1b9e77"/>
<circle cx="489.35" cy="99.74" r="1.15" fill="#1b9e77"/>
<circle cx="489.61" cy="102.03" r="1.15" fill="#1b9e77"/>
<circle cx="489.77" cy="105.55" r="1.15" fill="#1b9e77"/>
<circle cx="479.96" cy="115.84" r="1.15" fill="#1b9e77"/>
<circle cx="493.82" cy="109.48" r="1.15" fill="#1b9e77"/>
<circle cx="488.14" cy="105.41" r="1.15" fill="#1b9e77"/>
<circle cx="489.93" cy="108.28" r="1.15" fill="#1b9e77"/>
<circle cx="490.98" cy="94.31" r="1.15" fill="#1b9e77"/>
<circle cx="497.91" cy="111.43" r="1.15" fill="#1b9e77"/>
<circle cx="500.01" cy="95.24" r="1.15" fill="#1b9e77"/>
<circle cx="485.62" cy="106.62" r="1.15" fill="#1b9e77"/>
<circle cx="500.00" cy="94.22" r="1.15" fill="#1b9e77"/>
<circle cx="483.30" cy="110.67" r="1.15" fill="#1b9e77"/>
<circle cx="483.07" cy="95.74" r="1.15" fill="#1b9e77"/>
<circle cx="492.83" cy="115.82" r="1.15" fill="#1b9e77"/>
<circle cx="487.92" cy="111.21" r="1.15" fill="#1b9e77"/>
<circle cx="488.15" cy="115.91" r="1.15" fill="#1b9e77"/>
<circle cx="480.99" cy="109.07" r="1.15" fill="#1b9e77"/>
<circle cx="479.29" cy="95.62" r="1.15" fill="#1b9e77"/>
<circle cx="488.12" cy="91.30" r="1.15" fill="#1b9e77"/>
<circle cx="484.16" cy="114.05" r="1.15" fill="#1b9e77"/>
<circle cx="486.17" cy="86.48" r="1.15" fill="#1b9e77"/>
<circle cx="494.85" cy="117.56" r="1.15" fill="#1b9e77"/>
<circle cx="493.52" cy="91.20" r="1.15" fill="#1b9e77"/>
<circle cx="485.64" cy="104.13" r="1.15" fill="#1b9e77"/>
<circle cx="494.26" cy="102.90" r="1.15" fill="#1b9e77"/>
<circle cx="480.42" cy="106.57" r="1.15" fill="#1b9e77"/>
<circle cx="498.82" cy="91.53" r="1.15" fill="#1b9e77"/>
<circle cx="493.18" cy="98.24" r="1.15" fill="#1b9e77"/>
<circle cx="490.38" cy="104.53" r="1.15" fill="#1b9e77"/>
<circle cx="485.93" cy="110.91" r="1.15" fill="#1b9e77"/>
<circle cx="496.63" cy="105.54" r="1.15" fill="#1b9e77"/>
<circle cx="492.95" cy="107.93" r="1.15" fill="#1b9e77"/>
<circle cx="490.54" cy="94.02" r="1.15" fill="#1b9e77"/>
<circle cx="491.44" cy="99.22" r="1.15" fill="#1b9e77"/>
<circle cx="487.51" cy="105.32" r="1.15" fill="#1b9e77"/>
<circle cx="497.32" cy="98.03" r="1.15" fill="#1b9e77"/>
<circle cx="496.88" cy="112.51" r="1.15" fill="#1b9e77"/>
<circle cx="505.89" cy="110.90" r="1.15" fill="#1b9e77"/>
<circle cx="501.22" cy="123.29" r="1.15" fill="#1b9e77"/>
<circle cx="503.19" cy="119.50" r="1.15" fill="#1b9e77"/>
<circle cx="503.00" cy="101.91" r="1.15" fill="#1b9e77"/>
<circle cx="503.87" cy="113.18" r="1.15" fill="#1b9e77"/>
<circle cx="503.67" cy="96.17" r="1.15" fill="#1b9e77"/>
<circle cx="500.20" cy="94.27" r="1.15" fill="#1b9e77"/>
<circle cx="501.73" cy="109.12" r="1.15" fill="#1b9e77"/>
<circle cx="504.77" cy="110.82" r="1.15" fill="#1b9e77"/>
<circle cx="503.59" cy="129.99" r="1.15" fill="#1b9e77"/>
<circle cx="505.43" cy="129.38" r="1.15" fill="#1b9e77"/>
<circle cx="508.05" cy="109.97" r="1.15" fill="#1b9e77"/>
<circle cx="504.64" cy="115.99" r="1.15" fill="#1b9e77"/>
<circle cx="501.54" cy="96.66" r="1.15" fill="#1b9e77"/>
<circle cx="501.47" cy="119.89" r="1.15" fill="#1b9e77"/>
<circle cx="505.26" cy="121.58" r="1.15" fill="#1b9e77"/>
<circle cx="497.00" cy="128.15" r="1.15" fill="#1b9e77"/>
<circle cx="501.23" cy="93.57" r="1.15" fill="#1b9e77"/>
<circle cx="504.89" cy="106.79" r="1.15" fill="#1b9e77"/>
<circle cx="502.98" cy="114.98" r="1.15" fill="#1b9e77"/>
<circle cx="502.93" cy="110.93" r="1.15" fill="#1b9e77"/>
<circle cx="504.41" cy="92.60" r="1.15" fill="#1b9e77"/>
<circle cx="499.30" cy="115.44" r="1.15" fill="#1b9e77"/>
<circle cx="498.66" cy="119.96" r="1.15" fill="#1b9e77"/>
<circle cx="502.86" cy="125.21" r="1.15" fill="#1b9e77"/>
<circle cx="502.46" cy="90.93" r="1.15" fill="#1b9e77"/>
<circle cx="502.45" cy="99.71" r="1.15" fill="#1b9e77"/>
<circle cx="503.58" cy="125.72" r="1.15" fill="#1b9e77"/>
<circle cx="505.98" cy="117.00" r="1.15" fill="#1b9e77"/>
<circle cx="506.19" cy="121.49" r="1.15" fill="#1b9e77"/>
<circle cx="483.55" cy="139.66" r="1.15" fill="#1b9e77"/>
<circle cx="480.81" cy="134.63" r="1.15" fill="#1b9e77"/>
<circle cx="490.21" cy="125.12" r="1.15" fill="#1b9e77"/>
<circle cx="495.22" cy="124.52" r="1.15" fill="#1b9e77"/>
<circle cx="466.13" cy="120.44" r="1.15" fill="#1b9e77"/>
<circle cx="469.92" cy="132.23" r="1.15" fill="#1b9e77"/>
<circle cx="471.13" cy="132.17" r="1.15" fill="#1b9e77"/>
<circle cx="482.41" cy="127.58" r="1.15" fill="#1b9e77"/>
<circle cx="495.69" cy="138.91" r="1.15" fill="#1b9e77"/>
<circle cx="481.51" cy="138.51" r="1.15" fill="#1b9e77"/>
<circle cx="482.56" cy="118.15" r="1.15" fill="#1b9e77"/>
<circle cx="485.27" cy="132.09" r="1.15" fill="#1b9e77"/>
<circle cx="484.28" cy="137.67" r="1.15" fill="#1b9e77"/>
<circle cx="477.06" cy="136.87" r="1.15" fill="#1b9e77"/>
<circle cx="469.94" cy="117.60" r="1.15" fill="#1b9e77"/>
<circle cx="480.29" cy="128.73" r="1.15" fill="#1b9e77"/>
<circle cx="482.58" cy="126.36" r="1.15" fill="#1b9e77"/>
<circle cx="489.43" cy="126.18" r="1.15" fill="#1b9e77"/>
<circle cx="468.71" cy="133.00" r="1.15" fill="#1b9e77"/>
<circle cx="479.06" cy="130.36" r="1.15" fill="#1b9e77"/>
<circle cx="481.61" cy="131.37" r="1.15" fill="#1b9e77"/>
<circle cx="486.03" cy="124.92" r="1.15" fill="#1b9e77"/>
<circle cx="483.99" cy="135.98" r="1.15" fill="#1b9e77"/>
<circle cx="483.88" cy="118.48" r="1.15" fill="#1b9e77"/>
<circle cx="462.71" cy="135.49" r="1.15" fill="#1b9e77"/>
<circle cx="480.88" cy="129.41" r="1.15" fill="#1b9e77"/>
<circle cx="480.26" cy="120.68" r="1.15" fill="#1b9e77"/>
<circle cx="486.94" cy="130.63" r="1.15" fill="#1b9e77"/>
<circle cx="477.09" cy="133.83" r="1.15" fill="#1b9e77"/>
<circle cx="488.35" cy="141.08" r="1.15" fill="#1b9e77"/>
<circle cx="467.64" cy="134.54" r="1.15" fill="#1b9e77"/>
<circle cx="482.44" cy="137.23" r="1.15" fill="#1b9e77"/>
<circle cx="478.60" cy="125.21" r="1.15" fill="#1b9e77"/>
<circle cx="481.92" cy="124.22" r="1.15" fill="#1b9e77"/>
<circle cx="469.13" cy="130.40" r="1.15" fill="#1b9e77"/>
<circle cx="477.16" cy="126.88" r="1.15" fill="#1b9e77"/>
<circle cx="476.15" cy="128.66" r="1.15" fill="#1b9e77"/>
<circle cx="489.01" cy="142.39" r="1.15" fill="#1b9e77"/>
<circle cx="492.28" cy="123.03" r="1.15" fill="#1b9e77"/>
<circle cx="493.10" cy="121.56" r="1.15" fill="#1b9e77"/>
<circle cx="490.85" cy="126.34" r="1.15" fill="#1b9e77"/>
<circle cx="488.79" cy="129.59" r="1.15" fill="#1b9e77"/>
<circle cx="477.43" cy="122.52" r="1.15" fill="#1b9e77"/>
<circle cx="478.88" cy="139.43" r="1.15" fill="#1b9e77"/>
<circle cx="482.38" cy="128.75" r="1.15" fill="#1b9e77"/>
<circle cx="462.84" cy="151.00" r="1.15" fill="#1b9e77"/>
<circle cx="468.17" cy="148.39" r="1.15" fill="#1b9e77"/>
<circle cx="462.38" cy="150.62" r="1.15" fill="#1b9e77"/>
<circle cx="463.15" cy="150.13" r="1.15" fill="#1b9e77"/>
<circle cx="467.16" cy="149.62" r="1.15" fill="#1b9e77"/>
<circle cx="465.83" cy="143.84" r="1.15" fill="#1b9e77"/>
<circle cx="465.73" cy="148.18" r="1.15" fill="#1b9e77"/>
<circle cx="460.57" cy="148.21" r="1.15" fill="#1b9e77"/>
<circle cx="459.92" cy="146.16" r="1.15" fill="#1b9e77"/>
<circle cx="457.70" cy="147.22" r="1.15" fill="#1b9e77"/>
<circle cx="459.45" cy="146.90" r="1.15" fill="#1b9e77"/>
<circle cx="465.10" cy="148.62" r="1.15" fill="#1b9e77"/>
<circle cx="484.30" cy="153.35" r="1.15" fill="#1b9e77"/>
<circle cx="446.62" cy="135.19" r="1.15" fill="#1b9e77"/>
<circle cx="449.91" cy="164.20" r="1.15" fill="#1b9e77"/>
<circle cx="463.57" cy="137.84" r="1.15" fill="#1b9e77"/>
<circle cx="483.58" cy="142.45" r="1.15" fill="#1b9e77"/>
<circle cx="450.55" cy="134.66" r="1.15" fill="#1b9e77"/>
<circle cx="458.02" cy="155.82" r="1.15" fill="#1b9e77"/>
<circle cx="452.67" cy="145.78" r="1.15" fill="#1b9e77"/>
<circle cx="457.87" cy="149.60" r="1.15" fill="#1b9e77"/>
<circle cx="447.21" cy="155.11" r="1.15" fill="#1b9e77"/>
<circle cx="422.55" cy="184.90" r="1.15" fill="#1b9e77"/>
<circle cx="429.07" cy="184.84" r="1.15" fill="#1b9e77"/>
<circle cx="434.80" cy="190.47" r="1.15" fill="#1b9e77"/>
<circle cx="426.40" cy="190.93" r="1.15" fill="#1b9e77"/>
<circle cx="430.72" cy="186.66" r="1.15" fill="#1b9e77"/>
<circle cx="438.20" cy="179.49" r="1.15" fill="#1b9e77"/>
<circle cx="433.53" cy="186.58" r="1.15" fill="#1b9e77"/>
<circle cx="423.40" cy="196.68" r="1.15" fill="#1b9e77"/>
<circle cx="428.42" cy="174.20" r="1.15" fill="#1b9e77"/>
<circle cx="422.23" cy="190.08" r="1.15" fill="#1b9e77"/>
<circle cx="432.80" cy="179.91" r="1.15" fill="#1b9e77"/>
<circle cx="436.50" cy="182.76" r="1.15" fill="#1b9e77"/>
<circle cx="437.35" cy="177.64" r="1.15" fill="#1b9e77"/>
<circle cx="434.46" cy="177.35" r="1.15" fill="#1b9e77"/>
<circle cx="426.04" cy="189.93" r="1.15" fill="#1b9e77"/>
<circle cx="421.83" cy="194.96" r="1.15" fill="#1b9e77"/>
<circle cx="428.72" cy="178.12" r="1.15" fill="#1b9e77"/>
<circle cx="428.77" cy="179.29" r="1.15" fill="#1b9e77"/>
<circle cx="434.18" cy="176.89" r="1.15" fill="#1b9e77"/>
<circle cx="426.03" cy="196.64" r="1.15" fill="#1b9e77"/>
<circle cx="432.19" cy="181.35" r="1.15" fill="#1b9e77"/>
<circle cx="424.88" cy="195.89" r="1.15" fill="#1b9e77"/>
<circle cx="430.38" cy="187.45" r="1.15" fill="#1b9e77"/>
<circle cx="433.63" cy="181.01" r="1.15" fill="#1b9e77"/>
<circle cx="424.78" cy="189.16" r="1.15" fill="#1b9e77"/>
<circle cx="420.60" cy="190.99" r="1.15" fill="#1b9e77"/>
<circle cx="428.55" cy="197.55" r="1.15" fill="#1b9e77"/>
<circle cx="433.72" cy="176.79" r="1.15" fill="#1b9e77"/>
<circle cx="433.87" cy="182.83" r="1.15" fill="#1b9e77"/>
<circle cx="428.02" cy="187.15" r="1.15" fill="#1b9e77"/>
<circle cx="437.23" cy="180.36" r="1.15" fill="#1b9e77"/>
<circle cx="426.25" cy="181.60" r="1.15" fill="#1b9e77"/>
<circle cx="434.83" cy="178.91" r="1.15" fill="#1b9e77"/>
<circle cx="434.31" cy="175.53" r="1.15" fill="#1b9e77"/>
<circle cx="433.64" cy="184.15" r="1.15" fill="#1b9e77"/>
<circle cx="425.27" cy="185.42" r="1.15" fill="#1b9e77"/>
<circle cx="420.72" cy="194.66" r="1.15" fill="#1b9e77"/>
<circle cx="432.13" cy="186.00" r="1.15" fill="#1b9e77"/>
<circle cx="434.69" cy="179.95" r="1.15" fill="#1b9e77"/>
<circle cx="436.39" cy="179.93" r="1.15" fill="#1b9e77"/>
<circle cx="428.51" cy="190.26" r="1.15" fill="#1b9e77"/>
<circle cx="431.08" cy="176.92" r="1.15" fill="#1b9e77"/>
<circle cx="431.95" cy="181.05" r="1.15" fill="#1b9e77"/>
<circle cx="430.74" cy="185.79" r="1.15" fill="#1b9e77"/>
<circle cx="433.85" cy="187.65" r="1.15" fill="#1b9e77"/>
<circle cx="429.27" cy="180.82" r="1.15" fill="#1b9e77"/>
<circle cx="433.47" cy="181.01" r="1.15" fill="#1b9e77"/>
<circle cx="427.33" cy="189.60" r="1.15" fill="#1b9e77"/>
<circle cx="431.14" cy="187.41" r="1.15" fill="#1b9e77"/>
<circle cx="429.84" cy="177.89" r="1.15" fill="#1b9e77"/>
<circle cx="407.26" cy="230.34" r="1.15" fill="#1b9e77"/>
<circle cx="409.17" cy="220.99" r="1.15" fill="#1b9e77"/>
<circle cx="419.64" cy="202.22" r="1.15" fill="#1b9e77"/>
<circle cx="416.93" cy="211.62" r="1.15" fill="#1b9e77"/>
<circle cx="408.40" cy="202.76" r="1.15" fill="#1b9e77"/>
<circle cx="420.21" cy="200.55" r="1.15" fill="#1b9e77"/>
<circle cx="413.97" cy="216.03" r="1.15" fill="#1b9e77"/>
<circle cx="412.06" cy="234.21" r="1.15" fill="#1b9e77"/>
<circle cx="410.23" cy="212.75" r="1.15" fill="#1b9e77"/>
<circle cx="407.79" cy="219.73" r="1.15" fill="#1b9e77"/>
<circle cx="408.26" cy="216.04" r="1.15" fill="#1b9e77"/>
<circle cx="413.75" cy="219.50" r="1.15" fill="#1b9e77"/>
<circle cx="407.15" cy="209.95" r="1.15" fill="#1b9e77"/>
<circle cx="421.42" cy="203.21" r="1.15" fill="#1b9e77"/>
<circle cx="406.79" cy="236.65" r="1.15" fill="#1b9e77"/>
<circle cx="417.02" cy="204.21" r="1.15" fill="#1b9e77"/>
<circle cx="414.51" cy="210.30" r="1.15" fill="#1b9e77"/>
<circle cx="413.15" cy="204.10" r="1.15" fill="#1b9e77"/>
<circle cx="397.73" cy="219.34" r="1.15" fill="#1b9e77"/>
<circle cx="404.11" cy="228.64" r="1.15" fill="#1b9e77"/>
<circle cx="412.51" cy="196.90" r="1.15" fill="#1b9e77"/>
<circle cx="406.33" cy="218.28" r="1.15" fill="#1b9e77"/>
<circle cx="419.98" cy="201.70" r="1.15" fill="#1b9e77"/>
<circle cx="410.31" cy="233.82" r="1.15" fill="#1b9e77"/>
<circle cx="414.07" cy="211.21" r="1.15" fill="#1b9e77"/>
<circle cx="411.46" cy="227.52" r="1.15" fill="#1b9e77"/>
<circle cx="412.03" cy="222.60" r="1.15" fill="#1b9e77"/>
<circle cx="403.82" cy="230.29" r="1.15" fill="#1b9e77"/>
<circle cx="412.56" cy="217.91" r="1.15" fill="#1b9e77"/>
<circle cx="411.53" cy="206.73" r="1.15" fill="#1b9e77"/>
<circle cx="413.49" cy="231.37" r="1.15" fill="#1b9e77"/>
<circle cx="418.55" cy="212.39" r="1.15" fill="#1b9e77"/>
<circle cx="403.77" cy="206.45" r="1.15" fill="#1b9e77"/>
<circle cx="414.00" cy="201.00" r="1.15" fill="#1b9e77"/>
<circle cx="414.85" cy="205.12" r="1.15" fill="#1b9e77"/>
<circle cx="411.14" cy="209.37" r="1.15" fill="#1b9e77"/>
<circle cx="409.07" cy="234.68" r="1.15" fill="#1b9e77"/>
<circle cx="408.49" cy="234.54" r="1.15" fill="#1b9e77"/>
<circle cx="410.61" cy="209.15" r="1.15" fill="#1b9e77"/>
<circle cx="425.97" cy="204.78" r="1.15" fill="#1b9e77"/>
<circle cx="413.58" cy="205.88" r="1.15" fill="#1b9e77"/>
<circle cx="417.78" cy="224.41" r="1.15" fill="#1b9e77"/>
<circle cx="413.99" cy="197.32" r="1.15" fill="#1b9e77"/>
<circle cx="408.94" cy="216.71" r="1.15" fill="#1b9e77"/>
<circle cx="413.24" cy="214.26" r="1.15" fill="#1b9e77"/>
<circle cx="491.80" cy="50.00" r="1.15" fill="#1b9e77"/>
<circle cx="501.00" cy="55.90" r="1.15" fill="#1b9e77"/>
<circle cx="496.80" cy="61.80" r="1.15" fill="#1b9e77"/>
<circle cx="501.90" cy="64.30" r="1.15" fill="#1b9e77"/>
<circle cx="503.60" cy="68.50" r="1.15" fill="#1b9e77"/>
<circle cx="499.40" cy="70.20" r="1.15" fill="#1b9e77"/>
<circle cx="491.00" cy="66.80" r="1.15" fill="#1b9e77"/>
<circle cx="493.50" cy="71.00" r="1.15" fill="#1b9e77"/>
<circle cx="437.60" cy="169.90" r="1.15" fill="#1b9e77"/>
<circle cx="438.00" cy="174.30" r="1.15" fill="#1b9e77"/>
<circle cx="432.00" cy="176.30" r="1.15" fill="#1b9e77"/>
<circle cx="464.20" cy="169.30" r="1.15" fill="#1b9e77"/>
<circle cx="397.00" cy="241.90" r="1.15" fill="#1b9e77"/>
<circle cx="404.50" cy="241.90" r="1.15" fill="#1b9e77"/>
<circle cx="399.00" cy="234.70" r="1.15" fill="#1b9e77"/>
<circle cx="398.00" cy="237.30" r="1.15" fill="#1b9e77"/>
<circle cx="402.10" cy="205.10" r="1.15" fill="#1b9e77"/>
<circle cx="473.30" cy="124.00" r="1.15" fill="#1b9e77"/>
<circle cx="476.30" cy="126.00" r="1.15" fill="#1b9e77"/>
<circle cx="469.20" cy="130.00" r="1.15" fill="#1b9e77"/>
<circle cx="473.30" cy="132.10" r="1.15" fill="#1b9e77"/>
<circle cx="458.20" cy="138.50" r="1.15" fill="#1b9e77"/>
<circle cx="452.70" cy="143.70" r="1.15" fill="#1b9e77"/>
<circle cx="449.10" cy="148.20" r="1.15" fill="#1b9e77"/>
<circle cx="450.10" cy="151.20" r="1.15" fill="#1b9e77"/>
<circle cx="468.20" cy="137.10" r="1.15" fill="#1b9e77"/>
<circle cx="472.30" cy="138.10" r="1.15" fill="#1b9e77"/>
<circle cx="470.20" cy="155.20" r="1.15" fill="#1b9e77"/>
<circle cx="465.80" cy="157.80" r="1.15" fill="#1b9e77"/>
<circle cx="455.20" cy="158.20" r="1.15" fill="#1b9e77"/>
<circle cx="454.10" cy="160.20" r="1.15" fill="#1b9e77"/>
<circle cx="480.30" cy="146.20" r="1.15" fill="#1b9e77"/>
<circle cx="488.40" cy="145.20" r="1.15" fill="#1b9e77"/>
<circle cx="482.30" cy="140.10" r="1.15" fill="#1b9e77"/>
<circle cx="512.00" cy="120.00" r="1.15" fill="#1b9e77"/>
<circle cx="509.00" cy="110.00" r="1.15" fill="#1b9e77"/>
<circle cx="508.00" cy="128.00" r="1.15" fill="#1b9e77"/>
<circle cx="507.00" cy="100.00" r="1.15" fill="#1b9e77"/>
<rect x="529.40" y="177.46" width="2.3" height="2.3" fill="#7570b3"/>
<rect x="511.90" y="150.70" width="2.3" height="2.3" fill="#7570b3"/>
<rect x="526.56" y="169.09" width="2.3" height="2.3" fill="#7570b3"/>
<rect x="520.46" y="163.63" width="2.3" height="2.3" fill="#7570b3"/>
<rect x="521.86" y="171.64" width="2.3" height="2.3" fill="#7570b3"/>
<rect x="512.42" y="149.25" width="2.3" height="2.3" fill="#7570b3"/>
<rect x="511.17" y="150.37" width="2.3" height="2.3" fill="#7570b3"/>
<rect x="516.17" y="153.19" width="2.3" height="2.3" fill="#7570b3"/>
<rect x="526.72" y="182.01" width="2.3" height="2.3" fill="#7570b3"/>
<rect x="515.79" y="158.72" width="2.3" height="2.3" fill="#7570b3"/>
<rect x="526.75" y="165.48" width="2.3" height="2.3" fill="#7570b3"/>
<rect x="531.65" y="179.76" width="2.3" height="2.3" fill="#7570b3"/>
<rect x="525.97" y="170.76" width="2.3" height="2.3" fill="#7570b3"/>
<rect x="513.49" y="155.96" width="2.3" height="2.3" fill="#7570b3"/>
<rect x="518.17" y="162.73" width="2.3" height="2.3" fill="#7570b3"/>
<rect x="512.78" y="151.79" width="2.3" height="2.3" fill="#7570b3"/>
<rect x="516.18" y="157.79" width="2.3" height="2.3" fill="#7570b3"/>
<rect x="515.11" y="159.07" width="2.3" height="2.3" fill="#7570b3"/>
<rect x="509.39" y="149.90" width="2.3" height="2.3" fill="#7570b3"/>
<rect x="527.81" y="175.68" width="2.3" height="2.3" fill="#7570b3"/>
<rect x="531.79" y="176.00" width="2.3" height="2.3" fill="#7570b3"/>
<rect x="518.68" y="166.43" width="2.3" height="2.3" fill="#7570b3"/>
<rect x="523.27" y="169.14" width="2.3" height="2.3" fill="#7570b3"/>
<rect x="521.83" y="168.16" width="2.3" height="2.3" fill="#7570b3"/>
<rect x="523.60" y="170.07" width="2.3" height="2.3" fill="#7570b3"/>
<rect x="532.04" y="180.02" width="2.3" height="2.3" fill="#7570b3"/>
<rect x="526.13" y="165.26" width="2.3" height="2.3" fill="#7570b3"/>
<rect x="511.42" y="154.10" width="2.3" height="2.3" fill="#7570b3"/>
<rect x="520.40" y="173.02" width="2.3" height="2.3" fill="#7570b3"/>
<rect x="520.84" y="172.70" width="2.3" height="2.3" fill="#7570b3"/>
<rect x="525.76" y="177.20" width="2.3" height="2.3" fill="#7570b3"/>
<rect x="522.62" y="171.36" width="2.3" height="2.3" fill="#7570b3"/>
<rect x="518.59" y="158.23" width="2.3" height="2.3" fill="#7570b3"/>
<rect x="512.34" y="149.34" width="2.3" height="2.3" fill="#7570b3"/>
<rect x="520.66" y="162.49" width="2.3" height="2.3" fill="#7570b3"/>
<rect x="524.13" y="168.41" width="2.3" height="2.3" fill="#7570b3"/>
<rect x="523.72" y="173.11" width="2.3" height="2.3" fill="#7570b3"/>
<rect x="518.25" y="173.18" width="2.3" height="2.3" fill="#7570b3"/>
<rect x="527.57" y="165.40" width="2.3" height="2.3" fill="#7570b3"/>
<rect x="520.35" y="169.30" width="2.3" height="2.3" fill="#7570b3"/>
<rect x="513.82" y="156.78" width="2.3" height="2.3" fill="#7570b3"/>
<rect x="522.11" y="159.41" width="2.3" height="2.3" fill="#7570b3"/>
<rect x="518.03" y="162.52" width="2.3" height="2.3" fill="#7570b3"/>
<rect x="512.26" y="149.42" width="2.3" height="2.3" fill="#7570b3"/>
<rect x="529.41" y="179.55" width="2.3" height="2.3" fill="#7570b3"/>
<rect x="514.74" y="149.96" width="2.3" height="2.3" fill="#7570b3"/>
<rect x="532.49" y="178.76" width="2.3" height="2.3" fill="#7570b3"/>
<rect x="520.28" y="177.32" width="2.3" height="2.3" fill="#7570b3"/>
<rect x="508.70" y="158.87" width="2.3" height="2.3" fill="#7570b3"/>
<rect x="513.34" y="162.53" width="2.3" height="2.3" fill="#7570b3"/>
<rect x="516.91" y="155.85" width="2.3" height="2.3" fill="#7570b3"/>
<rect x="521.53" y="169.32" width="2.3" height="2.3" fill="#7570b3"/>
<rect x="511.27" y="149.47" width="2.3" height="2.3" fill="#7570b3"/>
<rect x="521.47" y="161.09" width="2.3" height="2.3" fill="#7570b3"/>
<rect x="525.42" y="173.09" width="2.3" height="2.3" fill="#7570b3"/>
<rect x="518.02" y="164.12" width="2.3" height="2.3" fill="#7570b3"/>
<rect x="523.77" y="168.57" width="2.3" height="2.3" fill="#7570b3"/>
<rect x="524.32" y="159.81" width="2.3" height="2.3" fill="#7570b3"/>
<rect x="526.27" y="167.32" width="2.3" height="2.3" fill="#7570b3"/>
<rect x="525.79" y="177.61" width="2.3" height="2.3" fill="#7570b3"/>
<rect x="524.33" y="170.32" width="2.3" height="2.3" fill="#7570b3"/>
<rect x="527.99" y="177.92" width="2.3" height="2.3" fill="#7570b3"/>
<rect x="522.15" y="178.45" width="2.3" height="2.3" fill="#7570b3"/>
<rect x="520.13" y="165.05" width="2.3" height="2.3" fill="#7570b3"/>
<rect x="521.04" y="160.94" width="2.3" height="2.3" fill="#7570b3"/>
<rect x="523.93" y="171.52" width="2.3" height="2.3" fill="#7570b3"/>
<rect x="517.08" y="174.23" width="2.3" height="2.3" fill="#7570b3"/>
<rect x="520.57" y="156.98" width="2.3" height="2.3" fill="#7570b3"/>
<rect x="517.19" y="171.71" width="2.3" height="2.3" fill="#7570b3"/>
<rect x="514.22" y="163.23" width="2.3" height="2.3" fill="#7570b3"/>
<rect x="528.98" y="180.92" width="2.3" height="2.3" fill="#7570b3"/>
<rect x="516.80" y="155.27" width="2.3" height="2.3" fill="#7570b3"/>
<rect x="514.80" y="164.21" width="2.3" height="2.3" fill="#7570b3"/>
<rect x="525.60" y="177.14" width="2.3" height="2.3" fill="#7570b3"/>
<rect x="521.47" y="163.18" width="2.3" height="2.3" fill="#7570b3"/>
<rect x="510.92" y="159.44" width="2.3" height="2.3" fill="#7570b3"/>
<rect x="515.18" y="155.81" width="2.3" height="2.3" fill="#7570b3"/>
<rect x="523.21" y="173.01" width="2.3" height="2.3" fill="#7570b3"/>
<rect x="523.06" y="170.56" width="2.3" height="2.3" fill="#7570b3"/>
<rect x="518.14" y="158.21" width="2.3" height="2.3" fill="#7570b3"/>
<rect x="538.40" y="155.68" width="2.3" height="2.3" fill="#7570b3"/>
<rect x="535.10" y="160.09" width="2.3" height="2.3" fill="#7570b3"/>
<rect x="535.61" y="164.01" width="2.3" height="2.3" fill="#7570b3"/>
<rect x="531.10" y="160.25" width="2.3" height="2.3" fill="#7570b3"/>
<rect x="534.61" y="162.66" width="2.3" height="2.3" fill="#7570b3"/>
<rect x="537.90" y="160.26" width="2.3" height="2.3" fill="#7570b3"/>
<rect x="532.85" y="151.78" width="2.3" height="2.3" fill="#7570b3"/>
<rect x="534.84" y="151.99" width="2.3" height="2.3" fill="#7570b3"/>
<rect x="529.08" y="146.28" width="2.3" height="2.3" fill="#7570b3"/>
<rect x="535.32" y="148.54" width="2.3" height="2.3" fill="#7570b3"/>
<rect x="533.45" y="154.67" width="2.3" height="2.3" fill="#7570b3"/>
<rect x="530.38" y="152.20" width="2.3" height="2.3" fill="#7570b3"/>
<rect x="537.96" y="162.87" width="2.3" height="2.3" fill="#7570b3"/>
<rect x="535.63" y="157.71" width="2.3" height="2.3" fill="#7570b3"/>
<rect x="533.60" y="154.93" width="2.3" height="2.3" fill="#7570b3"/>
<rect x="536.51" y="145.57" width="2.3" height="2.3" fill="#7570b3"/>
<rect x="533.08" y="152.65" width="2.3" height="2.3" fill="#7570b3"/>
<rect x="536.54" y="148.45" width="2.3" height="2.3" fill="#7570b3"/>
<rect x="531.15" y="141.36" width="2.3" height="2.3" fill="#7570b3"/>
<rect x="530.60" y="148.06" width="2.3" height="2.3" fill="#7570b3"/>
<rect x="531.20" y="144.86" width="2.3" height="2.3" fill="#7570b3"/>
<rect x="530.60" y="144.04" width="2.3" height="2.3" fill="#7570b3"/>
<rect x="532.24" y="149.75" width="2.3" height="2.3" fill="#7570b3"/>
<rect x="533.37" y="154.26" width="2.3" height="2.3" fill="#7570b3"/>
<rect x="530.14" y="154.47" width="2.3" height="2.3" fill="#7570b3"/>
<rect x="531.77" y="149.55" width="2.3" height="2.3" fill="#7570b3"/>
<rect x="531.44" y="152.15" width="2.3" height="2.3" fill="#7570b3"/>
<rect x="531.82" y="146.13" width="2.3" height="2.3" fill="#7570b3"/>
<rect x="531.53" y="143.86" width="2.3" height="2.3" fill="#7570b3"/>
<rect x="531.62" y="147.49" width="2.3" height="2.3" fill="#7570b3"/>
<rect x="530.40" y="148.55" width="2.3" height="2.3" fill="#7570b3"/>
<rect x="530.14" y="153.61" width="2.3" height="2.3" fill="#7570b3"/>
<rect x="520.27" y="182.94" width="2.3" height="2.3" fill="#7570b3"/>
<rect x="528.24" y="187.33" width="2.3" height="2.3" fill="#7570b3"/>
<rect x="535.79" y="207.91" width="2.3" height="2.3" fill="#7570b3"/>
<rect x="509.27" y="175.62" width="2.3" height="2.3" fill="#7570b3"/>
<rect x="529.15" y="188.28" width="2.3" height="2.3" fill="#7570b3"/>
<rect x="515.61" y="179.52" width="2.3" height="2.3" fill="#7570b3"/>
<rect x="528.87" y="200.88" width="2.3" height="2.3" fill="#7570b3"/>
<rect x="524.22" y="187.90" width="2.3" height="2.3" fill="#7570b3"/>
<rect x="510.97" y="170.71" width="2.3" height="2.3" fill="#7570b3"/>
<rect x="524.61" y="185.67" width="2.3" height="2.3" fill="#7570b3"/>
<rect x="509.88" y="174.34" width="2.3" height="2.3" fill="#7570b3"/>
<rect x="503.08" y="164.22" width="2.3" height="2.3" fill="#7570b3"/>
<rect x="511.83" y="163.57" width="2.3" height="2.3" fill="#7570b3"/>
<rect x="517.71" y="177.03" width="2.3" height="2.3" fill="#7570b3"/>
<rect x="506.02" y="159.89" width="2.3" height="2.3" fill="#7570b3"/>
<rect x="532.95" y="199.59" width="2.3" height="2.3" fill="#7570b3"/>
<rect x="531.47" y="202.80" width="2.3" height="2.3" fill="#7570b3"/>
<rect x="509.19" y="158.34" width="2.3" height="2.3" fill="#7570b3"/>
<rect x="521.74" y="188.17" width="2.3" height="2.3" fill="#7570b3"/>
<rect x="520.87" y="181.71" width="2.3" height="2.3" fill="#7570b3"/>
<rect x="519.21" y="180.44" width="2.3" height="2.3" fill="#7570b3"/>
<rect x="507.02" y="163.47" width="2.3" height="2.3" fill="#7570b3"/>
<rect x="534.50" y="211.07" width="2.3" height="2.3" fill="#7570b3"/>
<rect x="518.16" y="173.34" width="2.3" height="2.3" fill="#7570b3"/>
<rect x="534.59" y="210.43" width="2.3" height="2.3" fill="#7570b3"/>
<rect x="531.43" y="196.47" width="2.3" height="2.3" fill="#7570b3"/>
<rect x="528.56" y="196.12" width="2.3" height="2.3" fill="#7570b3"/>
<rect x="493.11" y="182.20" width="2.3" height="2.3" fill="#7570b3"/>
<rect x="525.96" y="207.03" width="2.3" height="2.3" fill="#7570b3"/>
<rect x="505.53" y="193.05" width="2.3" height="2.3" fill="#7570b3"/>
<rect x="510.09" y="202.58" width="2.3" height="2.3" fill="#7570b3"/>
<rect x="546.44" y="205.95" width="2.3" height="2.3" fill="#7570b3"/>
<rect x="492.18" y="183.38" width="2.3" height="2.3" fill="#7570b3"/>
<rect x="498.82" y="187.16" width="2.3" height="2.3" fill="#7570b3"/>
<rect x="494.03" y="185.94" width="2.3" height="2.3" fill="#7570b3"/>
<rect x="535.81" y="208.23" width="2.3" height="2.3" fill="#7570b3"/>
<rect x="532.08" y="194.50" width="2.3" height="2.3" fill="#7570b3"/>
<rect x="499.92" y="193.60" width="2.3" height="2.3" fill="#7570b3"/>
<rect x="496.24" y="184.55" width="2.3" height="2.3" fill="#7570b3"/>
<rect x="530.18" y="199.48" width="2.3" height="2.3" fill="#7570b3"/>
<rect x="499.34" y="187.41" width="2.3" height="2.3" fill="#7570b3"/>
<rect x="506.10" y="186.80" width="2.3" height="2.3" fill="#7570b3"/>
<rect x="531.55" y="196.50" width="2.3" height="2.3" fill="#7570b3"/>
<rect x="493.30" y="181.31" width="2.3" height="2.3" fill="#7570b3"/>
<rect x="510.28" y="182.38" width="2.3" height="2.3" fill="#7570b3"/>
<rect x="519.91" y="191.21" width="2.3" height="2.3" fill="#7570b3"/>
<rect x="523.39" y="201.91" width="2.3" height="2.3" fill="#7570b3"/>
<rect x="510.67" y="194.24" width="2.3" height="2.3" fill="#7570b3"/>
<rect x="547.69" y="205.23" width="2.3" height="2.3" fill="#7570b3"/>
<rect x="537.00" y="194.52" width="2.3" height="2.3" fill="#7570b3"/>
<rect x="488.81" y="181.67" width="2.3" height="2.3" fill="#7570b3"/>
<rect x="506.95" y="191.84" width="2.3" height="2.3" fill="#7570b3"/>
<rect x="490.11" y="181.20" width="2.3" height="2.3" fill="#7570b3"/>
<rect x="538.81" y="201.43" width="2.3" height="2.3" fill="#7570b3"/>
<rect x="495.03" y="184.28" width="2.3" height="2.3" fill="#7570b3"/>
<rect x="510.32" y="190.01" width="2.3" height="2.3" fill="#7570b3"/>
<rect x="533.78" y="204.59" width="2.3" height="2.3" fill="#7570b3"/>
<rect x="509.62" y="194.15" width="2.3" height="2.3" fill="#7570b3"/>
<rect x="490.46" y="181.44" width="2.3" height="2.3" fill="#7570b3"/>
<rect x="504.15" y="187.61" width="2.3" height="2.3" fill="#7570b3"/>
<rect x="506.80" y="192.55" width="2.3" height="2.3" fill="#7570b3"/>
<rect x="520.61" y="198.26" width="2.3" height="2.3" fill="#7570b3"/>
<rect x="534.26" y="199.72" width="2.3" height="2.3" fill="#7570b3"/>
<rect x="520.31" y="196.36" width="2.3" height="2.3" fill="#7570b3"/>
<rect x="488.51" y="183.87" width="2.3" height="2.3" fill="#7570b3"/>
<rect x="536.05" y="207.60" width="2.3" height="2.3" fill="#7570b3"/>
<rect x="512.87" y="191.50" width="2.3" height="2.3" fill="#7570b3"/>
<rect x="532.40" y="202.21" width="2.3" height="2.3" fill="#7570b3"/>
<rect x="504.07" y="183.50" width="2.3" height="2.3" fill="#7570b3"/>
<rect x="490.51" y="182.76" width="2.3" height="2.3" fill="#7570b3"/>
<rect x="507.12" y="195.30" width="2.3" height="2.3" fill="#7570b3"/>
<rect x="534.12" y="205.85" width="2.3" height="2.3" fill="#7570b3"/>
<rect x="544.78" y="207.05" width="2.3" height="2.3" fill="#7570b3"/>
<rect x="519.09" y="199.25" width="2.3" height="2.3" fill="#7570b3"/>
<rect x="533.77" y="203.68" width="2.3" height="2.3" fill="#7570b3"/>
<rect x="529.93" y="204.80" width="2.3" height="2.3" fill="#7570b3"/>
<rect x="493.14" y="177.01" width="2.3" height="2.3" fill="#7570b3"/>
<rect x="504.26" y="186.68" width="2.3" height="2.3" fill="#7570b3"/>
<rect x="494.17" y="187.25" width="2.3" height="2.3" fill="#7570b3"/>
<rect x="527.53" y="205.86" width="2.3" height="2.3" fill="#7570b3"/>
<rect x="496.73" y="181.09" width="2.3" height="2.3" fill="#7570b3"/>
<rect x="510.50" y="189.44" width="2.3" height="2.3" fill="#7570b3"/>
<rect x="497.08" y="193.96" width="2.3" height="2.3" fill="#7570b3"/>
<rect x="539.01" y="208.13" width="2.3" height="2.3" fill="#7570b3"/>
<rect x="534.71" y="203.44" width="2.3" height="2.3" fill="#7570b3"/>
<rect x="541.66" y="186.93" width="2.3" height="2.3" fill="#7570b3"/>
<rect x="543.66" y="204.29" width="2.3" height="2.3" fill="#7570b3"/>
<rect x="541.99" y="191.70" width="2.3" height="2.3" fill="#7570b3"/>
<rect x="542.81" y="199.87" width="2.3" height="2.3" fill="#7570b3"/>
<rect x="541.22" y="196.53" width="2.3" height="2.3" fill="#7570b3"/>
<rect x="543.50" y="202.62" width="2.3" height="2.3" fill="#7570b3"/>
<rect x="541.41" y="204.46" width="2.3" height="2.3" fill="#7570b3"/>
<rect x="542.32" y="204.84" width="2.3" height="2.3" fill="#7570b3"/>
<rect x="543.09" y="197.27" width="2.3" height="2.3" fill="#7570b3"/>
<rect x="540.99" y="206.13" width="2.3" height="2.3" fill="#7570b3"/>
<rect x="542.15" y="205.08" width="2.3" height="2.3" fill="#7570b3"/>
<rect x="541.32" y="200.41" width="2.3" height="2.3" fill="#7570b3"/>
<rect x="540.93" y="202.07" width="2.3" height="2.3" fill="#7570b3"/>
<rect x="541.71" y="190.42" width="2.3" height="2.3" fill="#7570b3"/>
<rect x="542.98" y="204.22" width="2.3" height="2.3" fill="#7570b3"/>
<rect x="542.11" y="206.84" width="2.3" height="2.3" fill="#7570b3"/>
<rect x="537.44" y="198.92" width="2.3" height="2.3" fill="#7570b3"/>
<rect x="536.37" y="200.73" width="2.3" height="2.3" fill="#7570b3"/>
<rect x="536.43" y="207.88" width="2.3" height="2.3" fill="#7570b3"/>
<rect x="537.45" y="208.05" width="2.3" height="2.3" fill="#7570b3"/>
<rect x="538.91" y="195.30" width="2.3" height="2.3" fill="#7570b3"/>
<rect x="534.76" y="193.86" width="2.3" height="2.3" fill="#7570b3"/>
<rect x="536.85" y="200.65" width="2.3" height="2.3" fill="#7570b3"/>
<rect x="536.38" y="207.47" width="2.3" height="2.3" fill="#7570b3"/>
<rect x="521.00" y="177.73" width="2.3" height="2.3" fill="#7570b3"/>
<rect x="521.95" y="174.24" width="2.3" height="2.3" fill="#7570b3"/>
<rect x="513.83" y="177.88" width="2.3" height="2.3" fill="#7570b3"/>
<rect x="523.43" y="182.56" width="2.3" height="2.3" fill="#7570b3"/>
<rect x="517.18" y="178.08" width="2.3" height="2.3" fill="#7570b3"/>
<rect x="521.89" y="176.20" width="2.3" height="2.3" fill="#7570b3"/>
<rect x="513.14" y="172.43" width="2.3" height="2.3" fill="#7570b3"/>
<rect x="532.57" y="175.39" width="2.3" height="2.3" fill="#7570b3"/>
<rect x="533.02" y="178.99" width="2.3" height="2.3" fill="#7570b3"/>
<rect x="517.15" y="178.23" width="2.3" height="2.3" fill="#7570b3"/>
<rect x="511.86" y="175.47" width="2.3" height="2.3" fill="#7570b3"/>
<rect x="521.05" y="177.87" width="2.3" height="2.3" fill="#7570b3"/>
<rect x="517.92" y="173.86" width="2.3" height="2.3" fill="#7570b3"/>
<rect x="520.06" y="177.24" width="2.3" height="2.3" fill="#7570b3"/>
<rect x="518.76" y="176.51" width="2.3" height="2.3" fill="#7570b3"/>
<rect x="526.91" y="180.96" width="2.3" height="2.3" fill="#7570b3"/>
<rect x="529.10" y="174.69" width="2.3" height="2.3" fill="#7570b3"/>
<rect x="518.85" y="178.83" width="2.3" height="2.3" fill="#7570b3"/>
<rect x="523.50" y="181.74" width="2.3" height="2.3" fill="#7570b3"/>
<rect x="521.06" y="179.87" width="2.3" height="2.3" fill="#7570b3"/>
<rect x="507.88" y="209.51" width="2.3" height="2.3" fill="#7570b3"/>
<rect x="518.76" y="207.12" width="2.3" height="2.3" fill="#7570b3"/>
<rect x="543.54" y="211.41" width="2.3" height="2.3" fill="#7570b3"/>
<rect x="519.02" y="213.25" width="2.3" height="2.3" fill="#7570b3"/>
<rect x="533.00" y="218.97" width="2.3" height="2.3" fill="#7570b3"/>
<rect x="524.40" y="225.34" width="2.3" height="2.3" fill="#7570b3"/>
<rect x="525.62" y="208.84" width="2.3" height="2.3" fill="#7570b3"/>
<rect x="542.62" y="210.28" width="2.3" height="2.3" fill="#7570b3"/>
<rect x="549.65" y="233.65" width="2.3" height="2.3" fill="#7570b3"/>
<rect x="550.35" y="236.85" width="2.3" height="2.3" fill="#7570b3"/>
<rect x="550.85" y="241.75" width="2.3" height="2.3" fill="#7570b3"/>
<rect x="490.55" y="197.45" width="2.3" height="2.3" fill="#7570b3"/>
<rect x="494.55" y="204.15" width="2.3" height="2.3" fill="#7570b3"/>
<rect x="485.15" y="194.75" width="2.3" height="2.3" fill="#7570b3"/>
<rect x="476.75" y="209.35" width="2.3" height="2.3" fill="#7570b3"/>
<rect x="483.85" y="209.35" width="2.3" height="2.3" fill="#7570b3"/>
<rect x="460.35" y="227.15" width="2.3" height="2.3" fill="#7570b3"/>
<rect x="546.85" y="198.85" width="2.3" height="2.3" fill="#7570b3"/>
<rect x="544.85" y="212.85" width="2.3" height="2.3" fill="#7570b3"/>
<rect x="538.85" y="220.85" width="2.3" height="2.3" fill="#7570b3"/>
<rect x="518.85" y="208.85" width="2.3" height="2.3" fill="#7570b3"/>
<rect x="554.85" y="203.85" width="2.3" height="2.3" fill="#7570b3"/>
<rect x="551.85" y="208.85" width="2.3" height="2.3" fill="#7570b3"/>
<rect x="513.85" y="138.85" width="2.3" height="2.3" fill="#7570b3"/>
<rect x="516.85" y="141.85" width="2.3" height="2.3" fill="#7570b3"/>
<rect x="519.85" y="144.85" width="2.3" height="2.3" fill="#7570b3"/>
<rect x="535.85" y="158.85" width="2.3" height="2.3" fill="#7570b3"/>
<rect x="538.85" y="164.85" width="2.3" height="2.3" fill="#7570b3"/>
<rect x="533.85" y="170.85" width="2.3" height="2.3" fill="#7570b3"/>
<rect x="536.85" y="176.85" width="2.3" height="2.3" fill="#7570b3"/>
<polygon points="527.45,156.19 526.05,158.61 528.85,158.61" fill="#d95f02"/>
<polygon points="528.45,149.50 527.05,151.92 529.85,151.92" fill="#d95f02"/>
<polygon points="527.45,153.48 526.05,155.90 528.85,155.90" fill="#d95f02"/>
<polygon points="525.71,129.92 524.31,132.34 527.11,132.34" fill="#d95f02"/>
<polygon points="528.11,150.45 526.71,152.88 529.51,152.88" fill="#d95f02"/>
<polygon points="526.79,163.80 525.39,166.22 528.19,166.22" fill="#d95f02"/>
<polygon points="528.87,142.55 527.47,144.97 530.27,144.97" fill="#d95f02"/>
<polygon points="527.52,130.76 526.12,133.18 528.92,133.18" fill="#d95f02"/>
<polygon points="529.87,162.86 528.47,165.29 531.27,165.29" fill="#d95f02"/>
<polygon points="527.82,152.18 526.42,154.61 529.22,154.61" fill="#d95f02"/>
<polygon points="527.09,133.99 525.69,136.42 528.49,136.42" fill="#d95f02"/>
<polygon points="527.95,152.03 526.55,154.45 529.35,154.45" fill="#d95f02"/>
<polygon points="528.37,164.21 526.97,166.64 529.77,166.64" fill="#d95f02"/>
<polygon points="525.33,134.51 523.93,136.93 526.73,136.93" fill="#d95f02"/>
<polygon points="525.86,159.00 524.46,161.42 527.26,161.42" fill="#d95f02"/>
<polygon points="529.40,153.01 528.00,155.44 530.80,155.44" fill="#d95f02"/>
<polygon points="525.58,134.96 524.18,137.39 526.98,137.39" fill="#d95f02"/>
<polygon points="529.60,133.45 528.20,135.88 531.00,135.88" fill="#d95f02"/>
<polygon points="528.98,162.73 527.58,165.15 530.38,165.15" fill="#d95f02"/>
<polygon points="527.58,139.43 526.18,141.85 528.98,141.85" fill="#d95f02"/>
<polygon points="527.29,143.27 525.89,145.70 528.69,145.70" fill="#d95f02"/>
<polygon points="529.12,151.39 527.72,153.81 530.52,153.81" fill="#d95f02"/>
<polygon points="528.45,143.20 527.05,145.63 529.85,145.63" fill="#d95f02"/>
<polygon points="526.89,126.51 525.49,128.93 528.29,128.93" fill="#d95f02"/>
<polygon points="528.23,136.36 526.83,138.79 529.63,138.79" fill="#d95f02"/>
<polygon points="528.37,144.42 526.97,146.84 529.77,146.84" fill="#d95f02"/>
<polygon points="526.83,155.45 525.43,157.87 528.23,157.87" fill="#d95f02"/>
<polygon points="526.30,149.57 524.90,152.00 527.70,152.00" fill="#d95f02"/>
<polygon points="527.51,142.84 526.11,145.27 528.91,145.27" fill="#d95f02"/>
<polygon points="527.17,133.76 525.77,136.18 528.57,136.18" fill="#d95f02"/>
<polygon points="527.81,156.31 526.41,158.74 529.21,158.74" fill="#d95f02"/>
<polygon points="527.82,133.59 526.42,136.02 529.22,136.02" fill="#d95f02"/>
<polygon points="528.44,153.98 527.04,156.41 529.84,156.41" fill="#d95f02"/>
<polygon points="528.95,145.36 527.55,147.78 530.35,147.78" fill="#d95f02"/>
<polygon points="526.64,147.50 525.24,149.93 528.04,149.93" fill="#d95f02"/>
<polygon points="527.50,141.09 526.10,143.51 528.90,143.51" fill="#d95f02"/>
<polygon points="527.40,134.21 526.00,136.63 528.80,136.63" fill="#d95f02"/>
<polygon points="526.89,132.95 525.49,135.38 528.29,135.38" fill="#d95f02"/>
<polygon points="502.54,155.64 501.14,158.07 503.94,158.07" fill="#d95f02"/>
<polygon points="502.68,157.50 501.28,159.93 504.08,159.93" fill="#d95f02"/>
<polygon points="506.53,154.37 505.13,156.80 507.93,156.80" fill="#d95f02"/>
<polygon points="505.82,163.54 504.42,165.96 507.22,165.96" fill="#d95f02"/>
<polygon points="504.00,157.25 502.60,159.68 505.40,159.68" fill="#d95f02"/>
<polygon points="505.16,163.38 503.76,165.81 506.56,165.81" fill="#d95f02"/>
<polygon points="507.52,162.35 506.12,164.78 508.92,164.78" fill="#d95f02"/>
<polygon points="506.73,158.06 505.33,160.48 508.13,160.48" fill="#d95f02"/>
<polygon points="521.70,121.90 520.30,124.32 523.10,124.32" fill="#d95f02"/>
<polygon points="521.70,125.20 520.30,127.62 523.10,127.62" fill="#d95f02"/>
<polygon points="520.90,128.50 519.50,130.92 522.30,130.92" fill="#d95f02"/>
<polygon points="525.90,156.30 524.50,158.72 527.30,158.72" fill="#d95f02"/>
<polygon points="521.10,118.50 519.70,120.92 522.50,120.92" fill="#d95f02"/>
<polygon points="522.10,122.60 520.70,125.02 523.50,125.02" fill="#d95f02"/>
<polygon points="523.10,117.50 521.70,119.92 524.50,119.92" fill="#d95f02"/>
<polygon points="507.50,148.70 506.10,151.12 508.90,151.12" fill="#d95f02"/>
<polygon points="479.90,157.70 478.50,160.12 481.30,160.12" fill="#d95f02"/>
<polygon points="481.90,156.30 480.50,158.72 483.30,158.72" fill="#d95f02"/>
<polygon points="483.30,158.70 481.90,161.12 484.70,161.12" fill="#d95f02"/>
<polygon points="485.30,154.30 483.90,156.72 486.70,156.72" fill="#d95f02"/>
<polygon points="488.40,154.70 487.00,157.12 489.80,157.12" fill="#d95f02"/>
<polygon points="489.40,152.70 488.00,155.12 490.80,155.12" fill="#d95f02"/>
<polygon points="475.30,163.80 473.90,166.22 476.70,166.22" fill="#d95f02"/>
<polygon points="490.00,160.80 488.60,163.22 491.40,163.22" fill="#d95f02"/>
<polygon points="495.40,161.80 494.00,164.22 496.80,164.22" fill="#d95f02"/>
<polygon points="497.40,157.70 496.00,160.12 498.80,160.12" fill="#d95f02"/>
<polygon points="493.40,144.30 492.00,146.72 494.80,146.72" fill="#d95f02"/>
<polygon points="496.00,160.50 494.60,162.92 497.40,162.92" fill="#d95f02"/>
<polygon points="498.00,163.00 496.60,165.42 499.40,165.42" fill="#d95f02"/>
<polygon points="498.40,182.30 497.00,184.72 499.80,184.72" fill="#d95f02"/>
<polygon points="502.40,187.10 501.00,189.52 503.80,189.52" fill="#d95f02"/>
<polygon points="511.80,187.70 510.40,190.12 513.20,190.12" fill="#d95f02"/>
<polygon points="501.10,167.50 499.70,169.92 502.50,169.92" fill="#d95f02"/>
<polygon points="503.80,164.80 502.40,167.22 505.20,167.22" fill="#d95f02"/>
<polygon points="498.00,181.20 496.60,183.62 499.40,183.62" fill="#d95f02"/>
<polygon points="502.10,183.90 500.70,186.32 503.50,186.32" fill="#d95f02"/>
<polygon points="500.00,184.00 498.60,186.42 501.40,186.42" fill="#d95f02"/>
<polygon points="504.00,185.50 502.60,187.92 505.40,187.92" fill="#d95f02"/>
<polygon points="500.70,150.30 499.30,152.72 502.10,152.72" fill="#d95f02"/>
<polygon points="515.50,128.90 514.10,131.32 516.90,131.32" fill="#d95f02"/>
<polygon points="531.00,138.50 529.60,140.92 532.40,140.92" fill="#d95f02"/>
<polygon points="532.00,158.50 530.60,160.92 533.40,160.92" fill="#d95f02"/>
<polygon points="530.00,168.50 528.60,170.92 531.40,170.92" fill="#d95f02"/>
<line x1="503.60" y1="150.45" x2="486.80" y2="61.80" stroke="#a8a8a8" stroke-width="0.65"/>
<polyline points="485.61,65.20 486.80,61.80 489.15,64.53" fill="none" stroke="#a8a8a8" stroke-width="0.65"/>
<line x1="503.60" y1="150.45" x2="487.50" y2="66.00" stroke="#111" stroke-width="0.85"/>
<polyline points="486.32,69.40 487.50,66.00 489.85,68.73" fill="none" stroke="#111" stroke-width="0.85"/>
<line x1="503.60" y1="150.45" x2="488.00" y2="76.00" stroke="#6e6e6e" stroke-width="0.7"/>
<polyline points="486.88,79.42 488.00,76.00 490.40,78.68" fill="none" stroke="#6e6e6e" stroke-width="0.7"/>
<line x1="503.60" y1="150.45" x2="526.20" y2="63.00" stroke="#3c3c3c" stroke-width="0.7"/>
<polyline points="523.68,65.57 526.20,63.00 527.16,66.47" fill="none" stroke="#3c3c3c" stroke-width="0.7"/>
<line x1="503.60" y1="150.45" x2="542.30" y2="73.70" stroke="#3c3c3c" stroke-width="0.7"/>
<polyline points="539.29,75.67 542.30,73.70 542.50,77.29" fill="none" stroke="#3c3c3c" stroke-width="0.7"/>
<line x1="503.60" y1="150.45" x2="565.30" y2="124.80" stroke="#222" stroke-width="0.85"/>
<polyline points="561.73,124.33 565.30,124.80 563.11,127.66" fill="none" stroke="#222" stroke-width="0.85"/>
<line x1="503.60" y1="150.45" x2="565.30" y2="127.00" stroke="#2a2a2a" stroke-width="0.85"/>
<polyline points="561.75,126.43 565.30,127.00 563.03,129.79" fill="none" stroke="#2a2a2a" stroke-width="0.85"/>
<line x1="503.60" y1="150.45" x2="565.30" y2="129.40" stroke="#2e2e2e" stroke-width="0.85"/>
<polyline points="561.77,128.70 565.30,129.40 562.93,132.11" fill="none" stroke="#2e2e2e" stroke-width="0.85"/>
<line x1="503.60" y1="150.45" x2="565.30" y2="131.80" stroke="#333" stroke-width="0.7"/>
<polyline points="561.79,130.98 565.30,131.80 562.84,134.43" fill="none" stroke="#333" stroke-width="0.7"/>
<line x1="503.60" y1="150.45" x2="495.20" y2="119.30" stroke="#a8a8a8" stroke-width="0.65"/>
<polyline points="494.27,122.78 495.20,119.30 497.75,121.84" fill="none" stroke="#a8a8a8" stroke-width="0.65"/>
<line x1="503.60" y1="150.45" x2="497.50" y2="131.00" stroke="#a8a8a8" stroke-width="0.65"/>
<polyline points="496.72,134.51 497.50,131.00 500.15,133.44" fill="none" stroke="#a8a8a8" stroke-width="0.65"/>
<line x1="503.60" y1="150.45" x2="496.00" y2="139.00" stroke="#a8a8a8" stroke-width="0.65"/>
<polyline points="496.22,142.59 496.00,139.00 499.22,140.60" fill="none" stroke="#a8a8a8" stroke-width="0.65"/>
<line x1="503.60" y1="150.45" x2="507.00" y2="131.00" stroke="#a8a8a8" stroke-width="0.65"/>
<polyline points="504.69,133.76 507.00,131.00 508.24,134.38" fill="none" stroke="#a8a8a8" stroke-width="0.65"/>
<line x1="503.60" y1="150.45" x2="552.00" y2="141.00" stroke="#6e6e6e" stroke-width="0.7"/>
<polyline points="548.60,139.83 552.00,141.00 549.29,143.36" fill="none" stroke="#6e6e6e" stroke-width="0.7"/>
<line x1="503.60" y1="150.45" x2="566.60" y2="158.30" stroke="#2a2a2a" stroke-width="0.85"/>
<polyline points="563.73,156.13 566.60,158.30 563.28,159.70" fill="none" stroke="#2a2a2a" stroke-width="0.85"/>
<line x1="503.60" y1="150.45" x2="567.00" y2="167.70" stroke="#2a2a2a" stroke-width="0.85"/>
<polyline points="564.46,165.14 567.00,167.70 563.52,168.62" fill="none" stroke="#2a2a2a" stroke-width="0.85"/>
<line x1="503.60" y1="150.45" x2="441.70" y2="170.70" stroke="#3c3c3c" stroke-width="0.7"/>
<polyline points="445.22,171.44 441.70,170.70 444.10,168.02" fill="none" stroke="#3c3c3c" stroke-width="0.7"/>
<line x1="503.60" y1="150.45" x2="445.10" y2="184.20" stroke="#6e6e6e" stroke-width="0.7"/>
<polyline points="448.70,184.20 445.10,184.20 446.90,181.08" fill="none" stroke="#6e6e6e" stroke-width="0.7"/>
<line x1="503.60" y1="150.45" x2="450.10" y2="195.30" stroke="#6e6e6e" stroke-width="0.7"/>
<polyline points="453.65,194.68 450.10,195.30 451.33,191.92" fill="none" stroke="#6e6e6e" stroke-width="0.7"/>
<line x1="503.60" y1="150.45" x2="458.20" y2="193.30" stroke="#a8a8a8" stroke-width="0.65"/>
<polyline points="461.70,192.47 458.20,193.30 459.23,189.85" fill="none" stroke="#a8a8a8" stroke-width="0.65"/>
<line x1="503.60" y1="150.45" x2="533.20" y2="221.90" stroke="#999" stroke-width="0.65"/>
<polyline points="533.67,218.33 533.20,221.90 530.34,219.71" fill="none" stroke="#999" stroke-width="0.65"/>
<line x1="503.60" y1="150.45" x2="532.50" y2="221.00" stroke="#999" stroke-width="0.65"/>
<polyline points="532.98,217.43 532.50,221.00 529.65,218.80" fill="none" stroke="#999" stroke-width="0.65"/>
<line x1="503.60" y1="150.45" x2="543.10" y2="229.50" stroke="#1a1a1a" stroke-width="0.85"/>
<polyline points="543.32,225.91 543.10,229.50 540.10,227.52" fill="none" stroke="#1a1a1a" stroke-width="0.85"/>
<line x1="503.60" y1="150.45" x2="544.20" y2="228.80" stroke="#222" stroke-width="0.85"/>
<polyline points="544.36,225.20 544.20,228.80 541.17,226.86" fill="none" stroke="#222" stroke-width="0.85"/>
<line x1="503.60" y1="150.45" x2="547.30" y2="223.30" stroke="#2a2a2a" stroke-width="0.85"/>
<polyline points="547.24,219.70 547.30,223.30 544.15,221.55" fill="none" stroke="#2a2a2a" stroke-width="0.85"/>
<text x="464.19" y="58.91" font-family='"Liberation Sans",sans-serif' font-size="8.75" font-style="normal" font-weight="normal" fill="#1a1a1a" stroke="#1a1a1a" stroke-width="0.25">SMRPB</text>
<text x="470.61" y="68.91" font-family='"Liberation Sans",sans-serif' font-size="8.75" font-style="normal" font-weight="normal" fill="#1a1a1a" stroke="#1a1a1a" stroke-width="0.25">ADI</text>
<text x="437.05" y="80.91" font-family='"Liberation Sans",sans-serif' font-size="8.75" font-style="normal" font-weight="normal" fill="#1a1a1a" stroke="#1a1a1a" stroke-width="0.25">SMRSPRPB</text>
<text x="514.08" y="59.21" font-family='"Liberation Sans",sans-serif' font-size="8.75" font-style="normal" font-weight="normal" fill="#1a1a1a" stroke="#1a1a1a" stroke-width="0.25">MMAX</text>
<text x="547.76" y="76.91" font-family='"Liberation Sans",sans-serif' font-size="8.75" font-style="normal" font-weight="normal" fill="#1a1a1a" stroke="#1a1a1a" stroke-width="0.25">MTWM</text>
<text x="473.16" y="123.81" font-family='"Liberation Sans",sans-serif' font-size="8.75" font-style="normal" font-weight="normal" fill="#1a1a1a" stroke="#1a1a1a" stroke-width="0.25">ELEV</text>
<text x="483.88" y="135.01" font-family='"Liberation Sans",sans-serif' font-size="8.75" font-style="normal" font-weight="normal" fill="#1a1a1a" stroke="#1a1a1a" stroke-width="0.25">ASL</text>
<text x="481.90" y="142.81" font-family='"Liberation Sans",sans-serif' font-size="8.75" font-style="normal" font-weight="normal" fill="#1a1a1a" stroke="#1a1a1a" stroke-width="0.25">ASP</text>
<text x="507.27" y="135.91" font-family='"Liberation Sans",sans-serif' font-size="8.75" font-style="normal" font-weight="normal" fill="#1a1a1a" stroke="#1a1a1a" stroke-width="0.25">DS</text>
<text x="559.44" y="119.31" font-family='"Liberation Sans",sans-serif' font-size="8.75" font-style="normal" font-weight="normal" fill="#1a1a1a" stroke="#1a1a1a" stroke-width="0.25">MAT</text>
<text x="569.91" y="126.21" font-family='"Liberation Sans",sans-serif' font-size="8.75" font-style="normal" font-weight="normal" fill="#1a1a1a" stroke="#1a1a1a" stroke-width="0.25">FDAY</text>
<text x="570.20" y="133.21" font-family='"Liberation Sans",sans-serif' font-size="8.75" font-style="normal" font-weight="normal" fill="#1a1a1a" stroke="#1a1a1a" stroke-width="0.25">DD5</text>
<text x="570.23" y="140.41" font-family='"Liberation Sans",sans-serif' font-size="8.75" font-style="normal" font-weight="normal" fill="#1a1a1a" stroke="#1a1a1a" stroke-width="0.25">GSDD5</text>
<text x="552.64" y="145.91" font-family='"Liberation Sans",sans-serif' font-size="8.75" font-style="normal" font-weight="normal" fill="#1a1a1a" stroke="#1a1a1a" stroke-width="0.25">FFP</text>
<text x="568.43" y="161.01" font-family='"Liberation Sans",sans-serif' font-size="8.75" font-style="normal" font-weight="normal" fill="#1a1a1a" stroke="#1a1a1a" stroke-width="0.25">MTCM</text>
<text x="570.19" y="170.91" font-family='"Liberation Sans",sans-serif' font-size="8.75" font-style="normal" font-weight="normal" fill="#1a1a1a" stroke="#1a1a1a" stroke-width="0.25">MMIN</text>
<text x="430.11" y="165.91" font-family='"Liberation Sans",sans-serif' font-size="8.75" font-style="normal" font-weight="normal" fill="#1a1a1a" stroke="#1a1a1a" stroke-width="0.25">SDAY</text>
<text x="439.94" y="182.71" font-family='"Liberation Sans",sans-serif' font-size="8.75" font-style="normal" font-weight="normal" fill="#1a1a1a" stroke="#1a1a1a" stroke-width="0.25">D100</text>
<text x="411.08" y="199.21" font-family='"Liberation Sans",sans-serif' font-size="8.75" font-style="normal" font-weight="normal" fill="#1a1a1a" stroke="#1a1a1a" stroke-width="0.25">MMINDD0</text>
<text x="452.00" y="203.01" font-family='"Liberation Sans",sans-serif' font-size="8.75" font-style="normal" font-weight="normal" fill="#1a1a1a" stroke="#1a1a1a" stroke-width="0.25">DD0</text>
<text x="502.83" y="215.51" font-family='"Liberation Sans",sans-serif' font-size="8.75" font-style="normal" font-weight="normal" fill="#1a1a1a" stroke="#1a1a1a" stroke-width="0.25">WINP</text>
<text x="503.66" y="225.41" font-family='"Liberation Sans",sans-serif' font-size="8.75" font-style="normal" font-weight="normal" fill="#1a1a1a" stroke="#1a1a1a" stroke-width="0.25">SMRP</text>
<text x="520.82" y="233.51" font-family='"Liberation Sans",sans-serif' font-size="8.75" font-style="normal" font-weight="normal" fill="#1a1a1a" stroke="#1a1a1a" stroke-width="0.25">MAP</text>
<text x="546.86" y="233.51" font-family='"Liberation Sans",sans-serif' font-size="8.75" font-style="normal" font-weight="normal" fill="#1a1a1a" stroke="#1a1a1a" stroke-width="0.25">GSP</text>
<text x="547.14" y="215.51" font-family='"Liberation Sans",sans-serif' font-size="8.75" font-style="normal" font-weight="normal" fill="#1a1a1a" stroke="#1a1a1a" stroke-width="0.25">SPRP</text>
<text x="370.97" y="68.86" font-family='"Liberation Sans",sans-serif' font-size="9.5" font-style="normal" font-weight="normal" fill="#333" stroke="#333" stroke-width="0.2">-10</text>
<text x="379.42" y="154.36" font-family='"Liberation Sans",sans-serif' font-size="9.5" font-style="normal" font-weight="normal" fill="#333" stroke="#333" stroke-width="0.2">0</text>
<text x="376.25" y="239.96" font-family='"Liberation Sans",sans-serif' font-size="9.5" font-style="normal" font-weight="normal" fill="#333" stroke="#333" stroke-width="0.2">-5</text>
<text x="394.34" y="264.16" font-family='"Liberation Sans",sans-serif' font-size="9.5" font-style="normal" font-weight="normal" fill="#333" stroke="#333" stroke-width="0.2">-10</text>
<text x="450.78" y="264.16" font-family='"Liberation Sans",sans-serif' font-size="9.5" font-style="normal" font-weight="normal" fill="#333" stroke="#333" stroke-width="0.2">-5</text>
<text x="500.66" y="264.16" font-family='"Liberation Sans",sans-serif' font-size="9.5" font-style="normal" font-weight="normal" fill="#333" stroke="#333" stroke-width="0.2">0</text>
<text x="553.46" y="264.16" font-family='"Liberation Sans",sans-serif' font-size="9.5" font-style="normal" font-weight="normal" fill="#333" stroke="#333" stroke-width="0.2">5</text>
<text x="468.09" y="278.24" font-family='"Liberation Sans",sans-serif' font-size="9.7" font-style="normal" font-weight="normal" fill="#1a1a1a" stroke="#1a1a1a" stroke-width="0.25">DIM1 (45.5%)</text>
<g transform="translate(363.8,142) rotate(-90)">
<text x="-29.91" y="3.34" font-family='"Liberation Sans",sans-serif' font-size="9.7" font-style="normal" font-weight="normal" fill="#1a1a1a" stroke="#1a1a1a" stroke-width="0.25">DIM2 (22.9%)</text>
</g>
<text x="359.09" y="10.90" font-family='"Liberation Serif",serif' font-size="13.6" font-style="normal" font-weight="bold" fill="#000">(b)</text>
<text x="602.20" y="6.91" font-family='"Liberation Sans",sans-serif' font-size="9.05" font-style="italic" font-weight="normal" fill="#1a1a1a" stroke="#1a1a1a" stroke-width="0.25">Species</text>
<rect x="592.3" y="10.00" width="9.4" height="9.5" fill="#fdecea" stroke="#66c2a5" stroke-width="0.8"/>
<circle cx="597.00" cy="14.75" r="1.85" fill="#1b9e77"/>
<text x="603.41" y="17.46" font-family='"Liberation Sans",sans-serif' font-size="8.3" font-style="italic" font-weight="normal" fill="#1a1a1a" stroke="#1a1a1a" stroke-width="0.25">Astronium graveolens</text>
<rect x="592.3" y="19.85" width="9.4" height="9.5" fill="#e2f4ec" stroke="#fc8d62" stroke-width="0.8"/>
<polygon points="597.00,22.37 594.55,26.61 599.45,26.61" fill="#d95f02"/>
<text x="603.00" y="27.36" font-family='"Liberation Sans",sans-serif' font-size="8.3" font-style="italic" font-weight="normal" fill="#1a1a1a" stroke="#1a1a1a" stroke-width="0.25">Cryosophila argentea</text>
<rect x="592.3" y="29.70" width="9.4" height="9.5" fill="#eae9f8" stroke="#8da0cb" stroke-width="0.8"/>
<rect x="595.15" y="32.60" width="3.7" height="3.7" fill="#7570b3"/>
<text x="603.00" y="37.86" font-family='"Liberation Sans",sans-serif' font-size="8.3" font-style="italic" font-weight="normal" fill="#1a1a1a" stroke="#1a1a1a" stroke-width="0.25">Thrinax radiata</text>
</svg>
</body></html>
